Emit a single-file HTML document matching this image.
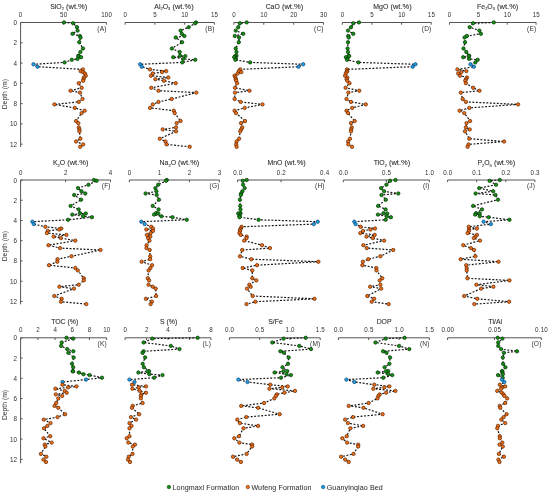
<!DOCTYPE html><html><head><meta charset="utf-8"><style>html,body{margin:0;padding:0;background:#fff;width:550px;height:494px;overflow:hidden}svg{display:block;filter:blur(0.3px)}text{font-family:"Liberation Sans",sans-serif;fill:#303030}</style></head><body>
<svg width="550" height="494" viewBox="0 0 550 494">
<line x1="20.6" y1="22.5" x2="20.6" y2="147.0" stroke="#555555" stroke-width="1"/>
<line x1="20.6" y1="22.50" x2="22.6" y2="22.50" stroke="#555555" stroke-width="1"/>
<text transform="translate(16.9,25.00) scale(1,1.1)" font-size="6.3" fill="#2a2a2a" text-anchor="end">0</text>
<line x1="20.6" y1="42.78" x2="22.6" y2="42.78" stroke="#555555" stroke-width="1"/>
<text transform="translate(16.9,45.28) scale(1,1.1)" font-size="6.3" fill="#2a2a2a" text-anchor="end">2</text>
<line x1="20.6" y1="63.06" x2="22.6" y2="63.06" stroke="#555555" stroke-width="1"/>
<text transform="translate(16.9,65.56) scale(1,1.1)" font-size="6.3" fill="#2a2a2a" text-anchor="end">4</text>
<line x1="20.6" y1="83.34" x2="22.6" y2="83.34" stroke="#555555" stroke-width="1"/>
<text transform="translate(16.9,85.84) scale(1,1.1)" font-size="6.3" fill="#2a2a2a" text-anchor="end">6</text>
<line x1="20.6" y1="103.62" x2="22.6" y2="103.62" stroke="#555555" stroke-width="1"/>
<text transform="translate(16.9,106.12) scale(1,1.1)" font-size="6.3" fill="#2a2a2a" text-anchor="end">8</text>
<line x1="20.6" y1="123.90" x2="22.6" y2="123.90" stroke="#555555" stroke-width="1"/>
<text transform="translate(16.9,126.40) scale(1,1.1)" font-size="6.3" fill="#2a2a2a" text-anchor="end">10</text>
<line x1="20.6" y1="144.18" x2="22.6" y2="144.18" stroke="#555555" stroke-width="1"/>
<text transform="translate(16.9,146.68) scale(1,1.1)" font-size="6.3" fill="#2a2a2a" text-anchor="end">12</text>
<text x="0" y="0" font-size="6.8" fill="#2a2a2a" text-anchor="middle" transform="translate(6.7,94.2) rotate(-90)">Depth (m)</text>
<line x1="20.6" y1="180.0" x2="20.6" y2="304.4" stroke="#555555" stroke-width="1"/>
<line x1="20.6" y1="180.00" x2="22.6" y2="180.00" stroke="#555555" stroke-width="1"/>
<text transform="translate(16.9,182.50) scale(1,1.1)" font-size="6.3" fill="#2a2a2a" text-anchor="end">0</text>
<line x1="20.6" y1="200.24" x2="22.6" y2="200.24" stroke="#555555" stroke-width="1"/>
<text transform="translate(16.9,202.74) scale(1,1.1)" font-size="6.3" fill="#2a2a2a" text-anchor="end">2</text>
<line x1="20.6" y1="220.48" x2="22.6" y2="220.48" stroke="#555555" stroke-width="1"/>
<text transform="translate(16.9,222.98) scale(1,1.1)" font-size="6.3" fill="#2a2a2a" text-anchor="end">4</text>
<line x1="20.6" y1="240.72" x2="22.6" y2="240.72" stroke="#555555" stroke-width="1"/>
<text transform="translate(16.9,243.22) scale(1,1.1)" font-size="6.3" fill="#2a2a2a" text-anchor="end">6</text>
<line x1="20.6" y1="260.96" x2="22.6" y2="260.96" stroke="#555555" stroke-width="1"/>
<text transform="translate(16.9,263.46) scale(1,1.1)" font-size="6.3" fill="#2a2a2a" text-anchor="end">8</text>
<line x1="20.6" y1="281.20" x2="22.6" y2="281.20" stroke="#555555" stroke-width="1"/>
<text transform="translate(16.9,283.70) scale(1,1.1)" font-size="6.3" fill="#2a2a2a" text-anchor="end">10</text>
<line x1="20.6" y1="301.44" x2="22.6" y2="301.44" stroke="#555555" stroke-width="1"/>
<text transform="translate(16.9,303.94) scale(1,1.1)" font-size="6.3" fill="#2a2a2a" text-anchor="end">12</text>
<text x="0" y="0" font-size="6.8" fill="#2a2a2a" text-anchor="middle" transform="translate(6.7,246.2) rotate(-90)">Depth (m)</text>
<line x1="20.6" y1="337.8" x2="20.6" y2="463.3" stroke="#555555" stroke-width="1"/>
<line x1="20.6" y1="337.80" x2="22.6" y2="337.80" stroke="#555555" stroke-width="1"/>
<text transform="translate(16.9,340.30) scale(1,1.1)" font-size="6.3" fill="#2a2a2a" text-anchor="end">0</text>
<line x1="20.6" y1="358.06" x2="22.6" y2="358.06" stroke="#555555" stroke-width="1"/>
<text transform="translate(16.9,360.56) scale(1,1.1)" font-size="6.3" fill="#2a2a2a" text-anchor="end">2</text>
<line x1="20.6" y1="378.32" x2="22.6" y2="378.32" stroke="#555555" stroke-width="1"/>
<text transform="translate(16.9,380.82) scale(1,1.1)" font-size="6.3" fill="#2a2a2a" text-anchor="end">4</text>
<line x1="20.6" y1="398.58" x2="22.6" y2="398.58" stroke="#555555" stroke-width="1"/>
<text transform="translate(16.9,401.08) scale(1,1.1)" font-size="6.3" fill="#2a2a2a" text-anchor="end">6</text>
<line x1="20.6" y1="418.84" x2="22.6" y2="418.84" stroke="#555555" stroke-width="1"/>
<text transform="translate(16.9,421.34) scale(1,1.1)" font-size="6.3" fill="#2a2a2a" text-anchor="end">8</text>
<line x1="20.6" y1="439.10" x2="22.6" y2="439.10" stroke="#555555" stroke-width="1"/>
<text transform="translate(16.9,441.60) scale(1,1.1)" font-size="6.3" fill="#2a2a2a" text-anchor="end">10</text>
<line x1="20.6" y1="459.36" x2="22.6" y2="459.36" stroke="#555555" stroke-width="1"/>
<text transform="translate(16.9,461.86) scale(1,1.1)" font-size="6.3" fill="#2a2a2a" text-anchor="end">12</text>
<text x="0" y="0" font-size="6.8" fill="#2a2a2a" text-anchor="middle" transform="translate(6.7,405.0) rotate(-90)">Depth (m)</text>
<line x1="20.5" y1="22.5" x2="106.4" y2="22.5" stroke="#555555" stroke-width="1"/>
<line x1="20.50" y1="22.5" x2="20.50" y2="24.7" stroke="#555555" stroke-width="1"/>
<text transform="translate(20.70,17.10) scale(1,1.15)" font-size="6.2" letter-spacing="0.2" fill="#505050" text-anchor="middle">0</text>
<line x1="63.45" y1="22.5" x2="63.45" y2="24.7" stroke="#555555" stroke-width="1"/>
<text transform="translate(63.65,17.10) scale(1,1.15)" font-size="6.2" letter-spacing="0.2" fill="#505050" text-anchor="middle">50</text>
<line x1="106.40" y1="22.5" x2="106.40" y2="24.7" stroke="#555555" stroke-width="1"/>
<text transform="translate(106.60,17.10) scale(1,1.15)" font-size="6.2" letter-spacing="0.2" fill="#505050" text-anchor="middle">100</text>
<text x="68.7" y="8.80" font-size="6.9" stroke="#303030" stroke-width="0.1" fill="#303030" text-anchor="middle">SiO<tspan font-size="4" dy="1.2">2</tspan><tspan dy="-1.2" font-size="7.5"> (wt.%)</tspan></text>
<text x="106.60000000000001" y="30.90" font-size="6.6" letter-spacing="0.15" fill="#303030" text-anchor="end">(A)</text>
<path d="M64.0,22.4 L73.2,23.3 L77.0,27.2 L77.6,30.6 L72.5,33.8 L79.9,36.0 L80.6,37.5 L79.2,42.2 L83.0,48.5 L80.4,52.0 L78.4,55.8 L78.6,56.1 L81.1,57.2 L77.5,58.9 L71.8,59.8 L64.6,62.4 L33.5,64.3 L37.5,66.7 L82.9,69.4 L80.6,71.1 L82.9,72.1 L84.9,73.5 L85.8,75.7 L83.9,77.5 L83.5,79.2 L83.1,80.7 L78.7,83.2 L81.7,87.8 L70.5,90.7 L80.0,92.6 L82.5,99.0 L78.7,101.9 L54.4,104.4 L74.8,107.9 L84.6,110.7 L81.6,113.1 L76.1,121.0 L78.3,123.1 L78.8,127.4 L79.4,129.4 L79.4,131.3 L80.4,138.7 L76.1,141.5 L83.2,144.4 L80.2,146.8" fill="none" stroke="#151515" stroke-width="1.2" stroke-dasharray="1.9,1.6"/>
<circle cx="64.0" cy="22.4" r="1.7" fill="#159015" stroke="#063306" stroke-width="0.7"/>
<circle cx="73.2" cy="23.3" r="1.7" fill="#159015" stroke="#063306" stroke-width="0.7"/>
<circle cx="77.0" cy="27.2" r="1.7" fill="#159015" stroke="#063306" stroke-width="0.7"/>
<circle cx="77.6" cy="30.6" r="1.7" fill="#159015" stroke="#063306" stroke-width="0.7"/>
<circle cx="72.5" cy="33.8" r="1.7" fill="#159015" stroke="#063306" stroke-width="0.7"/>
<circle cx="79.9" cy="36.0" r="1.7" fill="#159015" stroke="#063306" stroke-width="0.7"/>
<circle cx="80.6" cy="37.5" r="1.7" fill="#159015" stroke="#063306" stroke-width="0.7"/>
<circle cx="79.2" cy="42.2" r="1.7" fill="#159015" stroke="#063306" stroke-width="0.7"/>
<circle cx="83.0" cy="48.5" r="1.7" fill="#159015" stroke="#063306" stroke-width="0.7"/>
<circle cx="80.4" cy="52.0" r="1.7" fill="#159015" stroke="#063306" stroke-width="0.7"/>
<circle cx="78.4" cy="55.8" r="1.7" fill="#159015" stroke="#063306" stroke-width="0.7"/>
<circle cx="78.6" cy="56.1" r="1.7" fill="#159015" stroke="#063306" stroke-width="0.7"/>
<circle cx="81.1" cy="57.2" r="1.7" fill="#159015" stroke="#063306" stroke-width="0.7"/>
<circle cx="77.5" cy="58.9" r="1.7" fill="#159015" stroke="#063306" stroke-width="0.7"/>
<circle cx="71.8" cy="59.8" r="1.7" fill="#159015" stroke="#063306" stroke-width="0.7"/>
<circle cx="64.6" cy="62.4" r="1.7" fill="#159015" stroke="#063306" stroke-width="0.7"/>
<circle cx="33.5" cy="64.3" r="1.7" fill="#20a0e8" stroke="#084070" stroke-width="0.7"/>
<circle cx="37.5" cy="66.7" r="1.7" fill="#20a0e8" stroke="#084070" stroke-width="0.7"/>
<circle cx="82.9" cy="69.4" r="1.7" fill="#f07018" stroke="#5a2200" stroke-width="0.7"/>
<circle cx="80.6" cy="71.1" r="1.7" fill="#f07018" stroke="#5a2200" stroke-width="0.7"/>
<circle cx="82.9" cy="72.1" r="1.7" fill="#f07018" stroke="#5a2200" stroke-width="0.7"/>
<circle cx="84.9" cy="73.5" r="1.7" fill="#f07018" stroke="#5a2200" stroke-width="0.7"/>
<circle cx="85.8" cy="75.7" r="1.7" fill="#f07018" stroke="#5a2200" stroke-width="0.7"/>
<circle cx="83.9" cy="77.5" r="1.7" fill="#f07018" stroke="#5a2200" stroke-width="0.7"/>
<circle cx="83.5" cy="79.2" r="1.7" fill="#f07018" stroke="#5a2200" stroke-width="0.7"/>
<circle cx="83.1" cy="80.7" r="1.7" fill="#f07018" stroke="#5a2200" stroke-width="0.7"/>
<circle cx="78.7" cy="83.2" r="1.7" fill="#f07018" stroke="#5a2200" stroke-width="0.7"/>
<circle cx="81.7" cy="87.8" r="1.7" fill="#f07018" stroke="#5a2200" stroke-width="0.7"/>
<circle cx="70.5" cy="90.7" r="1.7" fill="#f07018" stroke="#5a2200" stroke-width="0.7"/>
<circle cx="80.0" cy="92.6" r="1.7" fill="#f07018" stroke="#5a2200" stroke-width="0.7"/>
<circle cx="82.5" cy="99.0" r="1.7" fill="#f07018" stroke="#5a2200" stroke-width="0.7"/>
<circle cx="78.7" cy="101.9" r="1.7" fill="#f07018" stroke="#5a2200" stroke-width="0.7"/>
<circle cx="54.4" cy="104.4" r="1.7" fill="#f07018" stroke="#5a2200" stroke-width="0.7"/>
<circle cx="74.8" cy="107.9" r="1.7" fill="#f07018" stroke="#5a2200" stroke-width="0.7"/>
<circle cx="84.6" cy="110.7" r="1.7" fill="#f07018" stroke="#5a2200" stroke-width="0.7"/>
<circle cx="81.6" cy="113.1" r="1.7" fill="#f07018" stroke="#5a2200" stroke-width="0.7"/>
<circle cx="76.1" cy="121.0" r="1.7" fill="#f07018" stroke="#5a2200" stroke-width="0.7"/>
<circle cx="78.3" cy="123.1" r="1.7" fill="#f07018" stroke="#5a2200" stroke-width="0.7"/>
<circle cx="78.8" cy="127.4" r="1.7" fill="#f07018" stroke="#5a2200" stroke-width="0.7"/>
<circle cx="79.4" cy="129.4" r="1.7" fill="#f07018" stroke="#5a2200" stroke-width="0.7"/>
<circle cx="79.4" cy="131.3" r="1.7" fill="#f07018" stroke="#5a2200" stroke-width="0.7"/>
<circle cx="80.4" cy="138.7" r="1.7" fill="#f07018" stroke="#5a2200" stroke-width="0.7"/>
<circle cx="76.1" cy="141.5" r="1.7" fill="#f07018" stroke="#5a2200" stroke-width="0.7"/>
<circle cx="83.2" cy="144.4" r="1.7" fill="#f07018" stroke="#5a2200" stroke-width="0.7"/>
<circle cx="80.2" cy="146.8" r="1.7" fill="#f07018" stroke="#5a2200" stroke-width="0.7"/>
<line x1="125.1" y1="22.5" x2="214.4" y2="22.5" stroke="#555555" stroke-width="1"/>
<line x1="125.10" y1="22.5" x2="125.10" y2="24.7" stroke="#555555" stroke-width="1"/>
<text transform="translate(125.30,17.10) scale(1,1.15)" font-size="6.2" letter-spacing="0.2" fill="#505050" text-anchor="middle">0</text>
<line x1="154.87" y1="22.5" x2="154.87" y2="24.7" stroke="#555555" stroke-width="1"/>
<text transform="translate(155.07,17.10) scale(1,1.15)" font-size="6.2" letter-spacing="0.2" fill="#505050" text-anchor="middle">5</text>
<line x1="184.63" y1="22.5" x2="184.63" y2="24.7" stroke="#555555" stroke-width="1"/>
<text transform="translate(184.83,17.10) scale(1,1.15)" font-size="6.2" letter-spacing="0.2" fill="#505050" text-anchor="middle">10</text>
<line x1="214.40" y1="22.5" x2="214.40" y2="24.7" stroke="#555555" stroke-width="1"/>
<text transform="translate(214.60,17.10) scale(1,1.15)" font-size="6.2" letter-spacing="0.2" fill="#505050" text-anchor="middle">15</text>
<text x="174.0" y="8.80" font-size="6.9" stroke="#303030" stroke-width="0.1" fill="#303030" text-anchor="middle">Al<tspan font-size="4" dy="1.2">2</tspan><tspan dy="-1.2">O</tspan><tspan font-size="4" dy="1.2">3</tspan><tspan dy="-1.2" font-size="7.5"> (wt.%)</tspan></text>
<text x="214.6" y="30.90" font-size="6.6" letter-spacing="0.15" fill="#303030" text-anchor="end">(B)</text>
<path d="M196.0,22.4 L195.0,23.3 L188.7,27.2 L180.6,30.6 L181.8,33.8 L184.4,36.0 L175.7,37.5 L182.1,42.2 L171.9,48.5 L179.7,52.0 L180.0,55.8 L185.3,56.1 L173.2,57.2 L183.3,58.9 L195.3,59.8 L182.3,62.4 L140.2,64.3 L141.8,66.7 L150.0,69.4 L166.2,71.1 L162.0,72.1 L152.8,73.5 L150.9,75.7 L168.3,77.5 L155.4,79.2 L164.0,80.7 L175.7,83.2 L151.3,87.8 L158.5,90.7 L196.3,92.6 L171.7,99.0 L158.5,101.9 L152.8,104.4 L150.0,107.9 L173.8,110.7 L174.7,113.1 L180.6,121.0 L176.7,123.1 L176.0,127.4 L162.7,129.4 L176.0,131.3 L159.8,138.7 L165.5,141.5 L166.6,144.4 L189.7,146.8" fill="none" stroke="#151515" stroke-width="1.2" stroke-dasharray="1.9,1.6"/>
<circle cx="196.0" cy="22.4" r="1.7" fill="#159015" stroke="#063306" stroke-width="0.7"/>
<circle cx="195.0" cy="23.3" r="1.7" fill="#159015" stroke="#063306" stroke-width="0.7"/>
<circle cx="188.7" cy="27.2" r="1.7" fill="#159015" stroke="#063306" stroke-width="0.7"/>
<circle cx="180.6" cy="30.6" r="1.7" fill="#159015" stroke="#063306" stroke-width="0.7"/>
<circle cx="181.8" cy="33.8" r="1.7" fill="#159015" stroke="#063306" stroke-width="0.7"/>
<circle cx="184.4" cy="36.0" r="1.7" fill="#159015" stroke="#063306" stroke-width="0.7"/>
<circle cx="175.7" cy="37.5" r="1.7" fill="#159015" stroke="#063306" stroke-width="0.7"/>
<circle cx="182.1" cy="42.2" r="1.7" fill="#159015" stroke="#063306" stroke-width="0.7"/>
<circle cx="171.9" cy="48.5" r="1.7" fill="#159015" stroke="#063306" stroke-width="0.7"/>
<circle cx="179.7" cy="52.0" r="1.7" fill="#159015" stroke="#063306" stroke-width="0.7"/>
<circle cx="180.0" cy="55.8" r="1.7" fill="#159015" stroke="#063306" stroke-width="0.7"/>
<circle cx="185.3" cy="56.1" r="1.7" fill="#159015" stroke="#063306" stroke-width="0.7"/>
<circle cx="173.2" cy="57.2" r="1.7" fill="#159015" stroke="#063306" stroke-width="0.7"/>
<circle cx="183.3" cy="58.9" r="1.7" fill="#159015" stroke="#063306" stroke-width="0.7"/>
<circle cx="195.3" cy="59.8" r="1.7" fill="#159015" stroke="#063306" stroke-width="0.7"/>
<circle cx="182.3" cy="62.4" r="1.7" fill="#159015" stroke="#063306" stroke-width="0.7"/>
<circle cx="140.2" cy="64.3" r="1.7" fill="#20a0e8" stroke="#084070" stroke-width="0.7"/>
<circle cx="141.8" cy="66.7" r="1.7" fill="#20a0e8" stroke="#084070" stroke-width="0.7"/>
<circle cx="150.0" cy="69.4" r="1.7" fill="#f07018" stroke="#5a2200" stroke-width="0.7"/>
<circle cx="166.2" cy="71.1" r="1.7" fill="#f07018" stroke="#5a2200" stroke-width="0.7"/>
<circle cx="162.0" cy="72.1" r="1.7" fill="#f07018" stroke="#5a2200" stroke-width="0.7"/>
<circle cx="152.8" cy="73.5" r="1.7" fill="#f07018" stroke="#5a2200" stroke-width="0.7"/>
<circle cx="150.9" cy="75.7" r="1.7" fill="#f07018" stroke="#5a2200" stroke-width="0.7"/>
<circle cx="168.3" cy="77.5" r="1.7" fill="#f07018" stroke="#5a2200" stroke-width="0.7"/>
<circle cx="155.4" cy="79.2" r="1.7" fill="#f07018" stroke="#5a2200" stroke-width="0.7"/>
<circle cx="164.0" cy="80.7" r="1.7" fill="#f07018" stroke="#5a2200" stroke-width="0.7"/>
<circle cx="175.7" cy="83.2" r="1.7" fill="#f07018" stroke="#5a2200" stroke-width="0.7"/>
<circle cx="151.3" cy="87.8" r="1.7" fill="#f07018" stroke="#5a2200" stroke-width="0.7"/>
<circle cx="158.5" cy="90.7" r="1.7" fill="#f07018" stroke="#5a2200" stroke-width="0.7"/>
<circle cx="196.3" cy="92.6" r="1.7" fill="#f07018" stroke="#5a2200" stroke-width="0.7"/>
<circle cx="171.7" cy="99.0" r="1.7" fill="#f07018" stroke="#5a2200" stroke-width="0.7"/>
<circle cx="158.5" cy="101.9" r="1.7" fill="#f07018" stroke="#5a2200" stroke-width="0.7"/>
<circle cx="152.8" cy="104.4" r="1.7" fill="#f07018" stroke="#5a2200" stroke-width="0.7"/>
<circle cx="150.0" cy="107.9" r="1.7" fill="#f07018" stroke="#5a2200" stroke-width="0.7"/>
<circle cx="173.8" cy="110.7" r="1.7" fill="#f07018" stroke="#5a2200" stroke-width="0.7"/>
<circle cx="174.7" cy="113.1" r="1.7" fill="#f07018" stroke="#5a2200" stroke-width="0.7"/>
<circle cx="180.6" cy="121.0" r="1.7" fill="#f07018" stroke="#5a2200" stroke-width="0.7"/>
<circle cx="176.7" cy="123.1" r="1.7" fill="#f07018" stroke="#5a2200" stroke-width="0.7"/>
<circle cx="176.0" cy="127.4" r="1.7" fill="#f07018" stroke="#5a2200" stroke-width="0.7"/>
<circle cx="162.7" cy="129.4" r="1.7" fill="#f07018" stroke="#5a2200" stroke-width="0.7"/>
<circle cx="176.0" cy="131.3" r="1.7" fill="#f07018" stroke="#5a2200" stroke-width="0.7"/>
<circle cx="159.8" cy="138.7" r="1.7" fill="#f07018" stroke="#5a2200" stroke-width="0.7"/>
<circle cx="165.5" cy="141.5" r="1.7" fill="#f07018" stroke="#5a2200" stroke-width="0.7"/>
<circle cx="166.6" cy="144.4" r="1.7" fill="#f07018" stroke="#5a2200" stroke-width="0.7"/>
<circle cx="189.7" cy="146.8" r="1.7" fill="#f07018" stroke="#5a2200" stroke-width="0.7"/>
<line x1="233.9" y1="22.5" x2="323.5" y2="22.5" stroke="#555555" stroke-width="1"/>
<line x1="233.90" y1="22.5" x2="233.90" y2="24.7" stroke="#555555" stroke-width="1"/>
<text transform="translate(234.10,17.10) scale(1,1.15)" font-size="6.2" letter-spacing="0.2" fill="#505050" text-anchor="middle">0</text>
<line x1="263.77" y1="22.5" x2="263.77" y2="24.7" stroke="#555555" stroke-width="1"/>
<text transform="translate(263.97,17.10) scale(1,1.15)" font-size="6.2" letter-spacing="0.2" fill="#505050" text-anchor="middle">10</text>
<line x1="293.63" y1="22.5" x2="293.63" y2="24.7" stroke="#555555" stroke-width="1"/>
<text transform="translate(293.83,17.10) scale(1,1.15)" font-size="6.2" letter-spacing="0.2" fill="#505050" text-anchor="middle">20</text>
<line x1="323.50" y1="22.5" x2="323.50" y2="24.7" stroke="#555555" stroke-width="1"/>
<text transform="translate(323.70,17.10) scale(1,1.15)" font-size="6.2" letter-spacing="0.2" fill="#505050" text-anchor="middle">30</text>
<text x="284.4" y="8.80" font-size="6.9" stroke="#303030" stroke-width="0.1" fill="#303030" text-anchor="middle">CaO<tspan font-size="7.5"> (wt.%)</tspan></text>
<text x="323.7" y="30.90" font-size="6.6" letter-spacing="0.15" fill="#303030" text-anchor="end">(C)</text>
<path d="M246.7,22.4 L239.9,23.3 L238.2,27.2 L235.7,30.6 L243.3,33.8 L234.8,36.0 L239.1,37.5 L238.8,42.2 L235.7,48.5 L236.5,52.0 L236.5,55.8 L235.0,56.1 L234.2,57.2 L236.0,58.9 L235.4,59.8 L250.1,62.4 L303.1,64.3 L298.5,66.7 L240.2,69.4 L238.8,71.1 L241.4,72.1 L237.6,73.5 L234.6,75.7 L235.4,77.5 L235.8,79.2 L236.2,80.7 L237.1,83.2 L235.0,87.8 L249.5,90.7 L235.0,92.6 L234.6,99.0 L240.7,101.9 L262.5,104.4 L244.7,107.9 L234.6,110.7 L236.0,113.1 L245.0,121.0 L241.0,123.1 L242.2,127.4 L241.2,129.4 L240.2,131.3 L239.1,138.7 L236.6,141.5 L236.1,144.4 L236.6,146.8" fill="none" stroke="#151515" stroke-width="1.2" stroke-dasharray="1.9,1.6"/>
<circle cx="246.7" cy="22.4" r="1.7" fill="#159015" stroke="#063306" stroke-width="0.7"/>
<circle cx="239.9" cy="23.3" r="1.7" fill="#159015" stroke="#063306" stroke-width="0.7"/>
<circle cx="238.2" cy="27.2" r="1.7" fill="#159015" stroke="#063306" stroke-width="0.7"/>
<circle cx="235.7" cy="30.6" r="1.7" fill="#159015" stroke="#063306" stroke-width="0.7"/>
<circle cx="243.3" cy="33.8" r="1.7" fill="#159015" stroke="#063306" stroke-width="0.7"/>
<circle cx="234.8" cy="36.0" r="1.7" fill="#159015" stroke="#063306" stroke-width="0.7"/>
<circle cx="239.1" cy="37.5" r="1.7" fill="#159015" stroke="#063306" stroke-width="0.7"/>
<circle cx="238.8" cy="42.2" r="1.7" fill="#159015" stroke="#063306" stroke-width="0.7"/>
<circle cx="235.7" cy="48.5" r="1.7" fill="#159015" stroke="#063306" stroke-width="0.7"/>
<circle cx="236.5" cy="52.0" r="1.7" fill="#159015" stroke="#063306" stroke-width="0.7"/>
<circle cx="236.5" cy="55.8" r="1.7" fill="#159015" stroke="#063306" stroke-width="0.7"/>
<circle cx="235.0" cy="56.1" r="1.7" fill="#159015" stroke="#063306" stroke-width="0.7"/>
<circle cx="234.2" cy="57.2" r="1.7" fill="#159015" stroke="#063306" stroke-width="0.7"/>
<circle cx="236.0" cy="58.9" r="1.7" fill="#159015" stroke="#063306" stroke-width="0.7"/>
<circle cx="235.4" cy="59.8" r="1.7" fill="#159015" stroke="#063306" stroke-width="0.7"/>
<circle cx="250.1" cy="62.4" r="1.7" fill="#159015" stroke="#063306" stroke-width="0.7"/>
<circle cx="303.1" cy="64.3" r="1.7" fill="#20a0e8" stroke="#084070" stroke-width="0.7"/>
<circle cx="298.5" cy="66.7" r="1.7" fill="#20a0e8" stroke="#084070" stroke-width="0.7"/>
<circle cx="240.2" cy="69.4" r="1.7" fill="#f07018" stroke="#5a2200" stroke-width="0.7"/>
<circle cx="238.8" cy="71.1" r="1.7" fill="#f07018" stroke="#5a2200" stroke-width="0.7"/>
<circle cx="241.4" cy="72.1" r="1.7" fill="#f07018" stroke="#5a2200" stroke-width="0.7"/>
<circle cx="237.6" cy="73.5" r="1.7" fill="#f07018" stroke="#5a2200" stroke-width="0.7"/>
<circle cx="234.6" cy="75.7" r="1.7" fill="#f07018" stroke="#5a2200" stroke-width="0.7"/>
<circle cx="235.4" cy="77.5" r="1.7" fill="#f07018" stroke="#5a2200" stroke-width="0.7"/>
<circle cx="235.8" cy="79.2" r="1.7" fill="#f07018" stroke="#5a2200" stroke-width="0.7"/>
<circle cx="236.2" cy="80.7" r="1.7" fill="#f07018" stroke="#5a2200" stroke-width="0.7"/>
<circle cx="237.1" cy="83.2" r="1.7" fill="#f07018" stroke="#5a2200" stroke-width="0.7"/>
<circle cx="235.0" cy="87.8" r="1.7" fill="#f07018" stroke="#5a2200" stroke-width="0.7"/>
<circle cx="249.5" cy="90.7" r="1.7" fill="#f07018" stroke="#5a2200" stroke-width="0.7"/>
<circle cx="235.0" cy="92.6" r="1.7" fill="#f07018" stroke="#5a2200" stroke-width="0.7"/>
<circle cx="234.6" cy="99.0" r="1.7" fill="#f07018" stroke="#5a2200" stroke-width="0.7"/>
<circle cx="240.7" cy="101.9" r="1.7" fill="#f07018" stroke="#5a2200" stroke-width="0.7"/>
<circle cx="262.5" cy="104.4" r="1.7" fill="#f07018" stroke="#5a2200" stroke-width="0.7"/>
<circle cx="244.7" cy="107.9" r="1.7" fill="#f07018" stroke="#5a2200" stroke-width="0.7"/>
<circle cx="234.6" cy="110.7" r="1.7" fill="#f07018" stroke="#5a2200" stroke-width="0.7"/>
<circle cx="236.0" cy="113.1" r="1.7" fill="#f07018" stroke="#5a2200" stroke-width="0.7"/>
<circle cx="245.0" cy="121.0" r="1.7" fill="#f07018" stroke="#5a2200" stroke-width="0.7"/>
<circle cx="241.0" cy="123.1" r="1.7" fill="#f07018" stroke="#5a2200" stroke-width="0.7"/>
<circle cx="242.2" cy="127.4" r="1.7" fill="#f07018" stroke="#5a2200" stroke-width="0.7"/>
<circle cx="241.2" cy="129.4" r="1.7" fill="#f07018" stroke="#5a2200" stroke-width="0.7"/>
<circle cx="240.2" cy="131.3" r="1.7" fill="#f07018" stroke="#5a2200" stroke-width="0.7"/>
<circle cx="239.1" cy="138.7" r="1.7" fill="#f07018" stroke="#5a2200" stroke-width="0.7"/>
<circle cx="236.6" cy="141.5" r="1.7" fill="#f07018" stroke="#5a2200" stroke-width="0.7"/>
<circle cx="236.1" cy="144.4" r="1.7" fill="#f07018" stroke="#5a2200" stroke-width="0.7"/>
<circle cx="236.6" cy="146.8" r="1.7" fill="#f07018" stroke="#5a2200" stroke-width="0.7"/>
<line x1="342.3" y1="22.5" x2="431.2" y2="22.5" stroke="#555555" stroke-width="1"/>
<line x1="342.30" y1="22.5" x2="342.30" y2="24.7" stroke="#555555" stroke-width="1"/>
<text transform="translate(342.50,17.10) scale(1,1.15)" font-size="6.2" letter-spacing="0.2" fill="#505050" text-anchor="middle">0</text>
<line x1="371.93" y1="22.5" x2="371.93" y2="24.7" stroke="#555555" stroke-width="1"/>
<text transform="translate(372.13,17.10) scale(1,1.15)" font-size="6.2" letter-spacing="0.2" fill="#505050" text-anchor="middle">5</text>
<line x1="401.57" y1="22.5" x2="401.57" y2="24.7" stroke="#555555" stroke-width="1"/>
<text transform="translate(401.77,17.10) scale(1,1.15)" font-size="6.2" letter-spacing="0.2" fill="#505050" text-anchor="middle">10</text>
<line x1="431.20" y1="22.5" x2="431.20" y2="24.7" stroke="#555555" stroke-width="1"/>
<text transform="translate(431.40,17.10) scale(1,1.15)" font-size="6.2" letter-spacing="0.2" fill="#505050" text-anchor="middle">15</text>
<text x="392.5" y="8.80" font-size="6.9" stroke="#303030" stroke-width="0.1" fill="#303030" text-anchor="middle">MgO<tspan font-size="7.5"> (wt.%)</tspan></text>
<text x="431.4" y="30.90" font-size="6.6" letter-spacing="0.15" fill="#303030" text-anchor="end">(D)</text>
<path d="M359.0,22.4 L353.3,23.3 L351.0,27.2 L348.0,30.6 L353.3,33.8 L348.2,36.0 L348.8,37.5 L348.0,42.2 L347.6,48.5 L348.0,52.0 L348.8,55.8 L349.1,56.1 L345.9,57.2 L347.5,58.9 L347.1,59.8 L358.4,62.4 L415.4,64.3 L412.7,66.7 L347.0,69.4 L347.3,71.1 L346.5,72.1 L345.8,73.5 L345.1,75.7 L347.3,77.5 L346.6,79.2 L347.3,80.7 L349.5,83.2 L345.6,87.8 L359.3,90.7 L348.4,92.6 L346.5,99.0 L351.0,101.9 L365.8,104.4 L352.2,107.9 L346.5,110.7 L348.0,113.1 L354.7,121.0 L351.0,123.1 L351.7,127.4 L351.2,129.4 L351.0,131.3 L350.0,138.7 L348.1,141.5 L348.3,144.4 L352.0,146.8" fill="none" stroke="#151515" stroke-width="1.2" stroke-dasharray="1.9,1.6"/>
<circle cx="359.0" cy="22.4" r="1.7" fill="#159015" stroke="#063306" stroke-width="0.7"/>
<circle cx="353.3" cy="23.3" r="1.7" fill="#159015" stroke="#063306" stroke-width="0.7"/>
<circle cx="351.0" cy="27.2" r="1.7" fill="#159015" stroke="#063306" stroke-width="0.7"/>
<circle cx="348.0" cy="30.6" r="1.7" fill="#159015" stroke="#063306" stroke-width="0.7"/>
<circle cx="353.3" cy="33.8" r="1.7" fill="#159015" stroke="#063306" stroke-width="0.7"/>
<circle cx="348.2" cy="36.0" r="1.7" fill="#159015" stroke="#063306" stroke-width="0.7"/>
<circle cx="348.8" cy="37.5" r="1.7" fill="#159015" stroke="#063306" stroke-width="0.7"/>
<circle cx="348.0" cy="42.2" r="1.7" fill="#159015" stroke="#063306" stroke-width="0.7"/>
<circle cx="347.6" cy="48.5" r="1.7" fill="#159015" stroke="#063306" stroke-width="0.7"/>
<circle cx="348.0" cy="52.0" r="1.7" fill="#159015" stroke="#063306" stroke-width="0.7"/>
<circle cx="348.8" cy="55.8" r="1.7" fill="#159015" stroke="#063306" stroke-width="0.7"/>
<circle cx="349.1" cy="56.1" r="1.7" fill="#159015" stroke="#063306" stroke-width="0.7"/>
<circle cx="345.9" cy="57.2" r="1.7" fill="#159015" stroke="#063306" stroke-width="0.7"/>
<circle cx="347.5" cy="58.9" r="1.7" fill="#159015" stroke="#063306" stroke-width="0.7"/>
<circle cx="347.1" cy="59.8" r="1.7" fill="#159015" stroke="#063306" stroke-width="0.7"/>
<circle cx="358.4" cy="62.4" r="1.7" fill="#159015" stroke="#063306" stroke-width="0.7"/>
<circle cx="415.4" cy="64.3" r="1.7" fill="#20a0e8" stroke="#084070" stroke-width="0.7"/>
<circle cx="412.7" cy="66.7" r="1.7" fill="#20a0e8" stroke="#084070" stroke-width="0.7"/>
<circle cx="347.0" cy="69.4" r="1.7" fill="#f07018" stroke="#5a2200" stroke-width="0.7"/>
<circle cx="347.3" cy="71.1" r="1.7" fill="#f07018" stroke="#5a2200" stroke-width="0.7"/>
<circle cx="346.5" cy="72.1" r="1.7" fill="#f07018" stroke="#5a2200" stroke-width="0.7"/>
<circle cx="345.8" cy="73.5" r="1.7" fill="#f07018" stroke="#5a2200" stroke-width="0.7"/>
<circle cx="345.1" cy="75.7" r="1.7" fill="#f07018" stroke="#5a2200" stroke-width="0.7"/>
<circle cx="347.3" cy="77.5" r="1.7" fill="#f07018" stroke="#5a2200" stroke-width="0.7"/>
<circle cx="346.6" cy="79.2" r="1.7" fill="#f07018" stroke="#5a2200" stroke-width="0.7"/>
<circle cx="347.3" cy="80.7" r="1.7" fill="#f07018" stroke="#5a2200" stroke-width="0.7"/>
<circle cx="349.5" cy="83.2" r="1.7" fill="#f07018" stroke="#5a2200" stroke-width="0.7"/>
<circle cx="345.6" cy="87.8" r="1.7" fill="#f07018" stroke="#5a2200" stroke-width="0.7"/>
<circle cx="359.3" cy="90.7" r="1.7" fill="#f07018" stroke="#5a2200" stroke-width="0.7"/>
<circle cx="348.4" cy="92.6" r="1.7" fill="#f07018" stroke="#5a2200" stroke-width="0.7"/>
<circle cx="346.5" cy="99.0" r="1.7" fill="#f07018" stroke="#5a2200" stroke-width="0.7"/>
<circle cx="351.0" cy="101.9" r="1.7" fill="#f07018" stroke="#5a2200" stroke-width="0.7"/>
<circle cx="365.8" cy="104.4" r="1.7" fill="#f07018" stroke="#5a2200" stroke-width="0.7"/>
<circle cx="352.2" cy="107.9" r="1.7" fill="#f07018" stroke="#5a2200" stroke-width="0.7"/>
<circle cx="346.5" cy="110.7" r="1.7" fill="#f07018" stroke="#5a2200" stroke-width="0.7"/>
<circle cx="348.0" cy="113.1" r="1.7" fill="#f07018" stroke="#5a2200" stroke-width="0.7"/>
<circle cx="354.7" cy="121.0" r="1.7" fill="#f07018" stroke="#5a2200" stroke-width="0.7"/>
<circle cx="351.0" cy="123.1" r="1.7" fill="#f07018" stroke="#5a2200" stroke-width="0.7"/>
<circle cx="351.7" cy="127.4" r="1.7" fill="#f07018" stroke="#5a2200" stroke-width="0.7"/>
<circle cx="351.2" cy="129.4" r="1.7" fill="#f07018" stroke="#5a2200" stroke-width="0.7"/>
<circle cx="351.0" cy="131.3" r="1.7" fill="#f07018" stroke="#5a2200" stroke-width="0.7"/>
<circle cx="350.0" cy="138.7" r="1.7" fill="#f07018" stroke="#5a2200" stroke-width="0.7"/>
<circle cx="348.1" cy="141.5" r="1.7" fill="#f07018" stroke="#5a2200" stroke-width="0.7"/>
<circle cx="348.3" cy="144.4" r="1.7" fill="#f07018" stroke="#5a2200" stroke-width="0.7"/>
<circle cx="352.0" cy="146.8" r="1.7" fill="#f07018" stroke="#5a2200" stroke-width="0.7"/>
<line x1="449.5" y1="22.5" x2="536.1" y2="22.5" stroke="#555555" stroke-width="1"/>
<line x1="449.50" y1="22.5" x2="449.50" y2="24.7" stroke="#555555" stroke-width="1"/>
<text transform="translate(449.70,17.10) scale(1,1.15)" font-size="6.2" letter-spacing="0.2" fill="#505050" text-anchor="middle">0</text>
<line x1="478.37" y1="22.5" x2="478.37" y2="24.7" stroke="#555555" stroke-width="1"/>
<text transform="translate(478.57,17.10) scale(1,1.15)" font-size="6.2" letter-spacing="0.2" fill="#505050" text-anchor="middle">5</text>
<line x1="507.23" y1="22.5" x2="507.23" y2="24.7" stroke="#555555" stroke-width="1"/>
<text transform="translate(507.43,17.10) scale(1,1.15)" font-size="6.2" letter-spacing="0.2" fill="#505050" text-anchor="middle">10</text>
<line x1="536.10" y1="22.5" x2="536.10" y2="24.7" stroke="#555555" stroke-width="1"/>
<text transform="translate(536.30,17.10) scale(1,1.15)" font-size="6.2" letter-spacing="0.2" fill="#505050" text-anchor="middle">15</text>
<text x="497.7" y="8.80" font-size="6.9" stroke="#303030" stroke-width="0.1" fill="#303030" text-anchor="middle">Fe<tspan font-size="4" dy="1.2">2</tspan><tspan dy="-1.2">O</tspan><tspan font-size="4" dy="1.2">3</tspan><tspan dy="-1.2" font-size="7.5"> (wt.%)</tspan></text>
<text x="536.3000000000001" y="30.90" font-size="6.6" letter-spacing="0.15" fill="#303030" text-anchor="end">(E)</text>
<path d="M493.8,22.4 L473.1,23.3 L469.7,27.2 L479.4,30.6 L480.9,33.8 L466.9,36.0 L464.6,37.5 L465.0,42.2 L463.5,48.5 L466.3,52.0 L469.2,55.8 L468.6,56.1 L463.2,57.2 L469.2,58.9 L477.7,59.8 L475.4,62.4 L470.5,64.3 L473.9,66.7 L457.4,69.4 L466.4,71.1 L461.3,72.1 L458.2,73.5 L460.0,75.7 L467.0,77.5 L466.0,79.2 L465.3,80.7 L465.9,83.2 L473.2,87.8 L479.5,90.7 L460.8,92.6 L462.7,99.0 L465.9,101.9 L518.1,104.4 L469.3,107.9 L459.6,110.7 L464.3,113.1 L470.1,121.0 L466.5,123.1 L465.9,127.4 L469.7,129.4 L465.0,131.3 L469.3,138.7 L504.1,141.5 L468.5,144.4 L467.6,146.8" fill="none" stroke="#151515" stroke-width="1.2" stroke-dasharray="1.9,1.6"/>
<circle cx="493.8" cy="22.4" r="1.7" fill="#159015" stroke="#063306" stroke-width="0.7"/>
<circle cx="473.1" cy="23.3" r="1.7" fill="#159015" stroke="#063306" stroke-width="0.7"/>
<circle cx="469.7" cy="27.2" r="1.7" fill="#159015" stroke="#063306" stroke-width="0.7"/>
<circle cx="479.4" cy="30.6" r="1.7" fill="#159015" stroke="#063306" stroke-width="0.7"/>
<circle cx="480.9" cy="33.8" r="1.7" fill="#159015" stroke="#063306" stroke-width="0.7"/>
<circle cx="466.9" cy="36.0" r="1.7" fill="#159015" stroke="#063306" stroke-width="0.7"/>
<circle cx="464.6" cy="37.5" r="1.7" fill="#159015" stroke="#063306" stroke-width="0.7"/>
<circle cx="465.0" cy="42.2" r="1.7" fill="#159015" stroke="#063306" stroke-width="0.7"/>
<circle cx="463.5" cy="48.5" r="1.7" fill="#159015" stroke="#063306" stroke-width="0.7"/>
<circle cx="466.3" cy="52.0" r="1.7" fill="#159015" stroke="#063306" stroke-width="0.7"/>
<circle cx="469.2" cy="55.8" r="1.7" fill="#159015" stroke="#063306" stroke-width="0.7"/>
<circle cx="468.6" cy="56.1" r="1.7" fill="#159015" stroke="#063306" stroke-width="0.7"/>
<circle cx="463.2" cy="57.2" r="1.7" fill="#159015" stroke="#063306" stroke-width="0.7"/>
<circle cx="469.2" cy="58.9" r="1.7" fill="#159015" stroke="#063306" stroke-width="0.7"/>
<circle cx="477.7" cy="59.8" r="1.7" fill="#159015" stroke="#063306" stroke-width="0.7"/>
<circle cx="475.4" cy="62.4" r="1.7" fill="#159015" stroke="#063306" stroke-width="0.7"/>
<circle cx="470.5" cy="64.3" r="1.7" fill="#20a0e8" stroke="#084070" stroke-width="0.7"/>
<circle cx="473.9" cy="66.7" r="1.7" fill="#20a0e8" stroke="#084070" stroke-width="0.7"/>
<circle cx="457.4" cy="69.4" r="1.7" fill="#f07018" stroke="#5a2200" stroke-width="0.7"/>
<circle cx="466.4" cy="71.1" r="1.7" fill="#f07018" stroke="#5a2200" stroke-width="0.7"/>
<circle cx="461.3" cy="72.1" r="1.7" fill="#f07018" stroke="#5a2200" stroke-width="0.7"/>
<circle cx="458.2" cy="73.5" r="1.7" fill="#f07018" stroke="#5a2200" stroke-width="0.7"/>
<circle cx="460.0" cy="75.7" r="1.7" fill="#f07018" stroke="#5a2200" stroke-width="0.7"/>
<circle cx="467.0" cy="77.5" r="1.7" fill="#f07018" stroke="#5a2200" stroke-width="0.7"/>
<circle cx="466.0" cy="79.2" r="1.7" fill="#f07018" stroke="#5a2200" stroke-width="0.7"/>
<circle cx="465.3" cy="80.7" r="1.7" fill="#f07018" stroke="#5a2200" stroke-width="0.7"/>
<circle cx="465.9" cy="83.2" r="1.7" fill="#f07018" stroke="#5a2200" stroke-width="0.7"/>
<circle cx="473.2" cy="87.8" r="1.7" fill="#f07018" stroke="#5a2200" stroke-width="0.7"/>
<circle cx="479.5" cy="90.7" r="1.7" fill="#f07018" stroke="#5a2200" stroke-width="0.7"/>
<circle cx="460.8" cy="92.6" r="1.7" fill="#f07018" stroke="#5a2200" stroke-width="0.7"/>
<circle cx="462.7" cy="99.0" r="1.7" fill="#f07018" stroke="#5a2200" stroke-width="0.7"/>
<circle cx="465.9" cy="101.9" r="1.7" fill="#f07018" stroke="#5a2200" stroke-width="0.7"/>
<circle cx="518.1" cy="104.4" r="1.7" fill="#f07018" stroke="#5a2200" stroke-width="0.7"/>
<circle cx="469.3" cy="107.9" r="1.7" fill="#f07018" stroke="#5a2200" stroke-width="0.7"/>
<circle cx="459.6" cy="110.7" r="1.7" fill="#f07018" stroke="#5a2200" stroke-width="0.7"/>
<circle cx="464.3" cy="113.1" r="1.7" fill="#f07018" stroke="#5a2200" stroke-width="0.7"/>
<circle cx="470.1" cy="121.0" r="1.7" fill="#f07018" stroke="#5a2200" stroke-width="0.7"/>
<circle cx="466.5" cy="123.1" r="1.7" fill="#f07018" stroke="#5a2200" stroke-width="0.7"/>
<circle cx="465.9" cy="127.4" r="1.7" fill="#f07018" stroke="#5a2200" stroke-width="0.7"/>
<circle cx="469.7" cy="129.4" r="1.7" fill="#f07018" stroke="#5a2200" stroke-width="0.7"/>
<circle cx="465.0" cy="131.3" r="1.7" fill="#f07018" stroke="#5a2200" stroke-width="0.7"/>
<circle cx="469.3" cy="138.7" r="1.7" fill="#f07018" stroke="#5a2200" stroke-width="0.7"/>
<circle cx="504.1" cy="141.5" r="1.7" fill="#f07018" stroke="#5a2200" stroke-width="0.7"/>
<circle cx="468.5" cy="144.4" r="1.7" fill="#f07018" stroke="#5a2200" stroke-width="0.7"/>
<circle cx="467.6" cy="146.8" r="1.7" fill="#f07018" stroke="#5a2200" stroke-width="0.7"/>
<line x1="20.7" y1="180.0" x2="110.5" y2="180.0" stroke="#555555" stroke-width="1"/>
<line x1="20.70" y1="180.0" x2="20.70" y2="182.2" stroke="#555555" stroke-width="1"/>
<text transform="translate(20.90,174.50) scale(1,1.15)" font-size="6.2" letter-spacing="0.2" fill="#505050" text-anchor="middle">0</text>
<line x1="65.60" y1="180.0" x2="65.60" y2="182.2" stroke="#555555" stroke-width="1"/>
<text transform="translate(65.80,174.50) scale(1,1.15)" font-size="6.2" letter-spacing="0.2" fill="#505050" text-anchor="middle">2</text>
<line x1="110.50" y1="180.0" x2="110.50" y2="182.2" stroke="#555555" stroke-width="1"/>
<text transform="translate(110.70,174.50) scale(1,1.15)" font-size="6.2" letter-spacing="0.2" fill="#505050" text-anchor="middle">4</text>
<text x="70.7" y="165.30" font-size="6.9" stroke="#303030" stroke-width="0.1" fill="#303030" text-anchor="middle">K<tspan font-size="4" dy="1.2">2</tspan><tspan dy="-1.2">O</tspan><tspan font-size="7.5"> (wt.%)</tspan></text>
<text x="110.7" y="188.40" font-size="6.6" letter-spacing="0.15" fill="#303030" text-anchor="end">(F)</text>
<path d="M93.9,180.0 L96.6,180.8 L88.5,184.7 L78.0,188.1 L81.5,191.3 L85.3,193.5 L74.2,195.0 L81.1,199.7 L70.6,205.9 L78.7,209.4 L80.0,213.2 L85.8,213.5 L72.3,214.6 L83.1,216.3 L91.9,217.2 L68.1,219.8 L32.4,221.7 L33.8,224.1 L45.4,226.8 L61.3,228.5 L59.2,229.5 L47.7,230.9 L46.9,233.1 L66.4,234.9 L53.6,236.6 L60.9,238.1 L75.3,240.6 L48.5,245.2 L60.0,248.1 L100.5,250.0 L71.5,256.3 L57.5,259.2 L57.3,261.7 L49.0,265.2 L75.3,268.0 L77.8,270.4 L83.8,278.3 L83.8,280.4 L78.7,284.7 L59.4,286.7 L74.0,288.6 L54.3,296.0 L61.7,298.8 L60.9,301.7 L86.3,304.1" fill="none" stroke="#151515" stroke-width="1.2" stroke-dasharray="1.9,1.6"/>
<circle cx="93.9" cy="180.0" r="1.7" fill="#159015" stroke="#063306" stroke-width="0.7"/>
<circle cx="96.6" cy="180.8" r="1.7" fill="#159015" stroke="#063306" stroke-width="0.7"/>
<circle cx="88.5" cy="184.7" r="1.7" fill="#159015" stroke="#063306" stroke-width="0.7"/>
<circle cx="78.0" cy="188.1" r="1.7" fill="#159015" stroke="#063306" stroke-width="0.7"/>
<circle cx="81.5" cy="191.3" r="1.7" fill="#159015" stroke="#063306" stroke-width="0.7"/>
<circle cx="85.3" cy="193.5" r="1.7" fill="#159015" stroke="#063306" stroke-width="0.7"/>
<circle cx="74.2" cy="195.0" r="1.7" fill="#159015" stroke="#063306" stroke-width="0.7"/>
<circle cx="81.1" cy="199.7" r="1.7" fill="#159015" stroke="#063306" stroke-width="0.7"/>
<circle cx="70.6" cy="205.9" r="1.7" fill="#159015" stroke="#063306" stroke-width="0.7"/>
<circle cx="78.7" cy="209.4" r="1.7" fill="#159015" stroke="#063306" stroke-width="0.7"/>
<circle cx="80.0" cy="213.2" r="1.7" fill="#159015" stroke="#063306" stroke-width="0.7"/>
<circle cx="85.8" cy="213.5" r="1.7" fill="#159015" stroke="#063306" stroke-width="0.7"/>
<circle cx="72.3" cy="214.6" r="1.7" fill="#159015" stroke="#063306" stroke-width="0.7"/>
<circle cx="83.1" cy="216.3" r="1.7" fill="#159015" stroke="#063306" stroke-width="0.7"/>
<circle cx="91.9" cy="217.2" r="1.7" fill="#159015" stroke="#063306" stroke-width="0.7"/>
<circle cx="68.1" cy="219.8" r="1.7" fill="#159015" stroke="#063306" stroke-width="0.7"/>
<circle cx="32.4" cy="221.7" r="1.7" fill="#20a0e8" stroke="#084070" stroke-width="0.7"/>
<circle cx="33.8" cy="224.1" r="1.7" fill="#20a0e8" stroke="#084070" stroke-width="0.7"/>
<circle cx="45.4" cy="226.8" r="1.7" fill="#f07018" stroke="#5a2200" stroke-width="0.7"/>
<circle cx="61.3" cy="228.5" r="1.7" fill="#f07018" stroke="#5a2200" stroke-width="0.7"/>
<circle cx="59.2" cy="229.5" r="1.7" fill="#f07018" stroke="#5a2200" stroke-width="0.7"/>
<circle cx="47.7" cy="230.9" r="1.7" fill="#f07018" stroke="#5a2200" stroke-width="0.7"/>
<circle cx="46.9" cy="233.1" r="1.7" fill="#f07018" stroke="#5a2200" stroke-width="0.7"/>
<circle cx="66.4" cy="234.9" r="1.7" fill="#f07018" stroke="#5a2200" stroke-width="0.7"/>
<circle cx="53.6" cy="236.6" r="1.7" fill="#f07018" stroke="#5a2200" stroke-width="0.7"/>
<circle cx="60.9" cy="238.1" r="1.7" fill="#f07018" stroke="#5a2200" stroke-width="0.7"/>
<circle cx="75.3" cy="240.6" r="1.7" fill="#f07018" stroke="#5a2200" stroke-width="0.7"/>
<circle cx="48.5" cy="245.2" r="1.7" fill="#f07018" stroke="#5a2200" stroke-width="0.7"/>
<circle cx="60.0" cy="248.1" r="1.7" fill="#f07018" stroke="#5a2200" stroke-width="0.7"/>
<circle cx="100.5" cy="250.0" r="1.7" fill="#f07018" stroke="#5a2200" stroke-width="0.7"/>
<circle cx="71.5" cy="256.3" r="1.7" fill="#f07018" stroke="#5a2200" stroke-width="0.7"/>
<circle cx="57.5" cy="259.2" r="1.7" fill="#f07018" stroke="#5a2200" stroke-width="0.7"/>
<circle cx="57.3" cy="261.7" r="1.7" fill="#f07018" stroke="#5a2200" stroke-width="0.7"/>
<circle cx="49.0" cy="265.2" r="1.7" fill="#f07018" stroke="#5a2200" stroke-width="0.7"/>
<circle cx="75.3" cy="268.0" r="1.7" fill="#f07018" stroke="#5a2200" stroke-width="0.7"/>
<circle cx="77.8" cy="270.4" r="1.7" fill="#f07018" stroke="#5a2200" stroke-width="0.7"/>
<circle cx="83.8" cy="278.3" r="1.7" fill="#f07018" stroke="#5a2200" stroke-width="0.7"/>
<circle cx="83.8" cy="280.4" r="1.7" fill="#f07018" stroke="#5a2200" stroke-width="0.7"/>
<circle cx="78.7" cy="284.7" r="1.7" fill="#f07018" stroke="#5a2200" stroke-width="0.7"/>
<circle cx="59.4" cy="286.7" r="1.7" fill="#f07018" stroke="#5a2200" stroke-width="0.7"/>
<circle cx="74.0" cy="288.6" r="1.7" fill="#f07018" stroke="#5a2200" stroke-width="0.7"/>
<circle cx="54.3" cy="296.0" r="1.7" fill="#f07018" stroke="#5a2200" stroke-width="0.7"/>
<circle cx="61.7" cy="298.8" r="1.7" fill="#f07018" stroke="#5a2200" stroke-width="0.7"/>
<circle cx="60.9" cy="301.7" r="1.7" fill="#f07018" stroke="#5a2200" stroke-width="0.7"/>
<circle cx="86.3" cy="304.1" r="1.7" fill="#f07018" stroke="#5a2200" stroke-width="0.7"/>
<line x1="129.3" y1="180.0" x2="219.4" y2="180.0" stroke="#555555" stroke-width="1"/>
<line x1="129.30" y1="180.0" x2="129.30" y2="182.2" stroke="#555555" stroke-width="1"/>
<text transform="translate(129.50,174.50) scale(1,1.15)" font-size="6.2" letter-spacing="0.2" fill="#505050" text-anchor="middle">0</text>
<line x1="159.33" y1="180.0" x2="159.33" y2="182.2" stroke="#555555" stroke-width="1"/>
<text transform="translate(159.53,174.50) scale(1,1.15)" font-size="6.2" letter-spacing="0.2" fill="#505050" text-anchor="middle">1</text>
<line x1="189.37" y1="180.0" x2="189.37" y2="182.2" stroke="#555555" stroke-width="1"/>
<text transform="translate(189.57,174.50) scale(1,1.15)" font-size="6.2" letter-spacing="0.2" fill="#505050" text-anchor="middle">2</text>
<line x1="219.40" y1="180.0" x2="219.40" y2="182.2" stroke="#555555" stroke-width="1"/>
<text transform="translate(219.60,174.50) scale(1,1.15)" font-size="6.2" letter-spacing="0.2" fill="#505050" text-anchor="middle">3</text>
<text x="179.5" y="165.30" font-size="6.9" stroke="#303030" stroke-width="0.1" fill="#303030" text-anchor="middle">Na<tspan font-size="4" dy="1.2">2</tspan><tspan dy="-1.2">O</tspan><tspan font-size="7.5"> (wt.%)</tspan></text>
<text x="219.6" y="188.40" font-size="6.6" letter-spacing="0.15" fill="#303030" text-anchor="end">(G)</text>
<path d="M166.8,180.0 L166.0,180.8 L158.2,184.7 L155.4,188.1 L156.4,191.3 L145.6,193.5 L156.7,195.0 L159.0,199.7 L152.7,205.9 L158.6,209.4 L155.9,213.2 L158.3,213.5 L154.0,214.6 L161.5,216.3 L172.5,217.2 L186.7,219.8 L141.3,221.7 L144.7,224.1 L151.2,226.8 L153.0,228.5 L146.3,229.5 L153.0,230.9 L150.6,233.1 L146.9,234.9 L150.3,236.6 L148.1,238.1 L149.5,240.6 L146.6,245.2 L146.5,248.1 L149.7,250.0 L150.2,256.3 L150.1,259.2 L141.7,261.7 L152.1,265.2 L150.4,268.0 L148.6,270.4 L147.8,278.3 L149.1,280.4 L148.5,284.7 L152.7,286.7 L155.7,288.6 L156.1,296.0 L145.9,298.8 L151.9,301.7 L150.6,304.1" fill="none" stroke="#151515" stroke-width="1.2" stroke-dasharray="1.9,1.6"/>
<circle cx="166.8" cy="180.0" r="1.7" fill="#159015" stroke="#063306" stroke-width="0.7"/>
<circle cx="166.0" cy="180.8" r="1.7" fill="#159015" stroke="#063306" stroke-width="0.7"/>
<circle cx="158.2" cy="184.7" r="1.7" fill="#159015" stroke="#063306" stroke-width="0.7"/>
<circle cx="155.4" cy="188.1" r="1.7" fill="#159015" stroke="#063306" stroke-width="0.7"/>
<circle cx="156.4" cy="191.3" r="1.7" fill="#159015" stroke="#063306" stroke-width="0.7"/>
<circle cx="145.6" cy="193.5" r="1.7" fill="#159015" stroke="#063306" stroke-width="0.7"/>
<circle cx="156.7" cy="195.0" r="1.7" fill="#159015" stroke="#063306" stroke-width="0.7"/>
<circle cx="159.0" cy="199.7" r="1.7" fill="#159015" stroke="#063306" stroke-width="0.7"/>
<circle cx="152.7" cy="205.9" r="1.7" fill="#159015" stroke="#063306" stroke-width="0.7"/>
<circle cx="158.6" cy="209.4" r="1.7" fill="#159015" stroke="#063306" stroke-width="0.7"/>
<circle cx="155.9" cy="213.2" r="1.7" fill="#159015" stroke="#063306" stroke-width="0.7"/>
<circle cx="158.3" cy="213.5" r="1.7" fill="#159015" stroke="#063306" stroke-width="0.7"/>
<circle cx="154.0" cy="214.6" r="1.7" fill="#159015" stroke="#063306" stroke-width="0.7"/>
<circle cx="161.5" cy="216.3" r="1.7" fill="#159015" stroke="#063306" stroke-width="0.7"/>
<circle cx="172.5" cy="217.2" r="1.7" fill="#159015" stroke="#063306" stroke-width="0.7"/>
<circle cx="186.7" cy="219.8" r="1.7" fill="#159015" stroke="#063306" stroke-width="0.7"/>
<circle cx="141.3" cy="221.7" r="1.7" fill="#20a0e8" stroke="#084070" stroke-width="0.7"/>
<circle cx="144.7" cy="224.1" r="1.7" fill="#20a0e8" stroke="#084070" stroke-width="0.7"/>
<circle cx="151.2" cy="226.8" r="1.7" fill="#f07018" stroke="#5a2200" stroke-width="0.7"/>
<circle cx="153.0" cy="228.5" r="1.7" fill="#f07018" stroke="#5a2200" stroke-width="0.7"/>
<circle cx="146.3" cy="229.5" r="1.7" fill="#f07018" stroke="#5a2200" stroke-width="0.7"/>
<circle cx="153.0" cy="230.9" r="1.7" fill="#f07018" stroke="#5a2200" stroke-width="0.7"/>
<circle cx="150.6" cy="233.1" r="1.7" fill="#f07018" stroke="#5a2200" stroke-width="0.7"/>
<circle cx="146.9" cy="234.9" r="1.7" fill="#f07018" stroke="#5a2200" stroke-width="0.7"/>
<circle cx="150.3" cy="236.6" r="1.7" fill="#f07018" stroke="#5a2200" stroke-width="0.7"/>
<circle cx="148.1" cy="238.1" r="1.7" fill="#f07018" stroke="#5a2200" stroke-width="0.7"/>
<circle cx="149.5" cy="240.6" r="1.7" fill="#f07018" stroke="#5a2200" stroke-width="0.7"/>
<circle cx="146.6" cy="245.2" r="1.7" fill="#f07018" stroke="#5a2200" stroke-width="0.7"/>
<circle cx="146.5" cy="248.1" r="1.7" fill="#f07018" stroke="#5a2200" stroke-width="0.7"/>
<circle cx="149.7" cy="250.0" r="1.7" fill="#f07018" stroke="#5a2200" stroke-width="0.7"/>
<circle cx="150.2" cy="256.3" r="1.7" fill="#f07018" stroke="#5a2200" stroke-width="0.7"/>
<circle cx="150.1" cy="259.2" r="1.7" fill="#f07018" stroke="#5a2200" stroke-width="0.7"/>
<circle cx="141.7" cy="261.7" r="1.7" fill="#f07018" stroke="#5a2200" stroke-width="0.7"/>
<circle cx="152.1" cy="265.2" r="1.7" fill="#f07018" stroke="#5a2200" stroke-width="0.7"/>
<circle cx="150.4" cy="268.0" r="1.7" fill="#f07018" stroke="#5a2200" stroke-width="0.7"/>
<circle cx="148.6" cy="270.4" r="1.7" fill="#f07018" stroke="#5a2200" stroke-width="0.7"/>
<circle cx="147.8" cy="278.3" r="1.7" fill="#f07018" stroke="#5a2200" stroke-width="0.7"/>
<circle cx="149.1" cy="280.4" r="1.7" fill="#f07018" stroke="#5a2200" stroke-width="0.7"/>
<circle cx="148.5" cy="284.7" r="1.7" fill="#f07018" stroke="#5a2200" stroke-width="0.7"/>
<circle cx="152.7" cy="286.7" r="1.7" fill="#f07018" stroke="#5a2200" stroke-width="0.7"/>
<circle cx="155.7" cy="288.6" r="1.7" fill="#f07018" stroke="#5a2200" stroke-width="0.7"/>
<circle cx="156.1" cy="296.0" r="1.7" fill="#f07018" stroke="#5a2200" stroke-width="0.7"/>
<circle cx="145.9" cy="298.8" r="1.7" fill="#f07018" stroke="#5a2200" stroke-width="0.7"/>
<circle cx="151.9" cy="301.7" r="1.7" fill="#f07018" stroke="#5a2200" stroke-width="0.7"/>
<circle cx="150.6" cy="304.1" r="1.7" fill="#f07018" stroke="#5a2200" stroke-width="0.7"/>
<line x1="237.6" y1="180.0" x2="324.5" y2="180.0" stroke="#555555" stroke-width="1"/>
<line x1="237.60" y1="180.0" x2="237.60" y2="182.2" stroke="#555555" stroke-width="1"/>
<text transform="translate(237.80,174.50) scale(1,1.15)" font-size="6.2" letter-spacing="0.2" fill="#505050" text-anchor="middle">0.0</text>
<line x1="281.05" y1="180.0" x2="281.05" y2="182.2" stroke="#555555" stroke-width="1"/>
<text transform="translate(281.25,174.50) scale(1,1.15)" font-size="6.2" letter-spacing="0.2" fill="#505050" text-anchor="middle">0.2</text>
<line x1="324.50" y1="180.0" x2="324.50" y2="182.2" stroke="#555555" stroke-width="1"/>
<text transform="translate(324.70,174.50) scale(1,1.15)" font-size="6.2" letter-spacing="0.2" fill="#505050" text-anchor="middle">0.4</text>
<text x="286.7" y="165.30" font-size="6.9" stroke="#303030" stroke-width="0.1" fill="#303030" text-anchor="middle">MnO<tspan font-size="7.5"> (wt.%)</tspan></text>
<text x="324.7" y="188.40" font-size="6.6" letter-spacing="0.15" fill="#303030" text-anchor="end">(H)</text>
<path d="M246.7,180.0 L242.8,180.8 L243.1,184.7 L244.7,188.1 L242.4,191.3 L241.1,193.5 L240.8,195.0 L239.9,199.7 L240.2,205.9 L240.5,209.4 L240.5,213.2 L238.2,213.5 L239.9,214.6 L239.4,216.3 L239.6,217.2 L258.6,219.8 L317.7,221.7 L313.8,224.1 L241.6,226.8 L240.8,228.5 L240.3,229.5 L239.9,230.9 L239.4,233.1 L240.8,234.9 L246.7,236.6 L246.5,238.1 L244.2,240.6 L262.0,245.2 L270.0,248.1 L242.2,250.0 L240.0,256.3 L251.3,259.2 L318.4,261.7 L257.0,265.2 L242.7,268.0 L252.3,270.4 L252.3,278.3 L256.3,280.4 L249.3,284.7 L250.7,286.7 L247.0,288.6 L252.6,296.0 L314.5,298.8 L255.4,301.7 L246.5,304.1" fill="none" stroke="#151515" stroke-width="1.2" stroke-dasharray="1.9,1.6"/>
<circle cx="246.7" cy="180.0" r="1.7" fill="#159015" stroke="#063306" stroke-width="0.7"/>
<circle cx="242.8" cy="180.8" r="1.7" fill="#159015" stroke="#063306" stroke-width="0.7"/>
<circle cx="243.1" cy="184.7" r="1.7" fill="#159015" stroke="#063306" stroke-width="0.7"/>
<circle cx="244.7" cy="188.1" r="1.7" fill="#159015" stroke="#063306" stroke-width="0.7"/>
<circle cx="242.4" cy="191.3" r="1.7" fill="#159015" stroke="#063306" stroke-width="0.7"/>
<circle cx="241.1" cy="193.5" r="1.7" fill="#159015" stroke="#063306" stroke-width="0.7"/>
<circle cx="240.8" cy="195.0" r="1.7" fill="#159015" stroke="#063306" stroke-width="0.7"/>
<circle cx="239.9" cy="199.7" r="1.7" fill="#159015" stroke="#063306" stroke-width="0.7"/>
<circle cx="240.2" cy="205.9" r="1.7" fill="#159015" stroke="#063306" stroke-width="0.7"/>
<circle cx="240.5" cy="209.4" r="1.7" fill="#159015" stroke="#063306" stroke-width="0.7"/>
<circle cx="240.5" cy="213.2" r="1.7" fill="#159015" stroke="#063306" stroke-width="0.7"/>
<circle cx="238.2" cy="213.5" r="1.7" fill="#159015" stroke="#063306" stroke-width="0.7"/>
<circle cx="239.9" cy="214.6" r="1.7" fill="#159015" stroke="#063306" stroke-width="0.7"/>
<circle cx="239.4" cy="216.3" r="1.7" fill="#159015" stroke="#063306" stroke-width="0.7"/>
<circle cx="239.6" cy="217.2" r="1.7" fill="#159015" stroke="#063306" stroke-width="0.7"/>
<circle cx="258.6" cy="219.8" r="1.7" fill="#159015" stroke="#063306" stroke-width="0.7"/>
<circle cx="317.7" cy="221.7" r="1.7" fill="#20a0e8" stroke="#084070" stroke-width="0.7"/>
<circle cx="313.8" cy="224.1" r="1.7" fill="#20a0e8" stroke="#084070" stroke-width="0.7"/>
<circle cx="241.6" cy="226.8" r="1.7" fill="#f07018" stroke="#5a2200" stroke-width="0.7"/>
<circle cx="240.8" cy="228.5" r="1.7" fill="#f07018" stroke="#5a2200" stroke-width="0.7"/>
<circle cx="240.3" cy="229.5" r="1.7" fill="#f07018" stroke="#5a2200" stroke-width="0.7"/>
<circle cx="239.9" cy="230.9" r="1.7" fill="#f07018" stroke="#5a2200" stroke-width="0.7"/>
<circle cx="239.4" cy="233.1" r="1.7" fill="#f07018" stroke="#5a2200" stroke-width="0.7"/>
<circle cx="240.8" cy="234.9" r="1.7" fill="#f07018" stroke="#5a2200" stroke-width="0.7"/>
<circle cx="246.7" cy="236.6" r="1.7" fill="#f07018" stroke="#5a2200" stroke-width="0.7"/>
<circle cx="246.5" cy="238.1" r="1.7" fill="#f07018" stroke="#5a2200" stroke-width="0.7"/>
<circle cx="244.2" cy="240.6" r="1.7" fill="#f07018" stroke="#5a2200" stroke-width="0.7"/>
<circle cx="262.0" cy="245.2" r="1.7" fill="#f07018" stroke="#5a2200" stroke-width="0.7"/>
<circle cx="270.0" cy="248.1" r="1.7" fill="#f07018" stroke="#5a2200" stroke-width="0.7"/>
<circle cx="242.2" cy="250.0" r="1.7" fill="#f07018" stroke="#5a2200" stroke-width="0.7"/>
<circle cx="240.0" cy="256.3" r="1.7" fill="#f07018" stroke="#5a2200" stroke-width="0.7"/>
<circle cx="251.3" cy="259.2" r="1.7" fill="#f07018" stroke="#5a2200" stroke-width="0.7"/>
<circle cx="318.4" cy="261.7" r="1.7" fill="#f07018" stroke="#5a2200" stroke-width="0.7"/>
<circle cx="257.0" cy="265.2" r="1.7" fill="#f07018" stroke="#5a2200" stroke-width="0.7"/>
<circle cx="242.7" cy="268.0" r="1.7" fill="#f07018" stroke="#5a2200" stroke-width="0.7"/>
<circle cx="252.3" cy="270.4" r="1.7" fill="#f07018" stroke="#5a2200" stroke-width="0.7"/>
<circle cx="252.3" cy="278.3" r="1.7" fill="#f07018" stroke="#5a2200" stroke-width="0.7"/>
<circle cx="256.3" cy="280.4" r="1.7" fill="#f07018" stroke="#5a2200" stroke-width="0.7"/>
<circle cx="249.3" cy="284.7" r="1.7" fill="#f07018" stroke="#5a2200" stroke-width="0.7"/>
<circle cx="250.7" cy="286.7" r="1.7" fill="#f07018" stroke="#5a2200" stroke-width="0.7"/>
<circle cx="247.0" cy="288.6" r="1.7" fill="#f07018" stroke="#5a2200" stroke-width="0.7"/>
<circle cx="252.6" cy="296.0" r="1.7" fill="#f07018" stroke="#5a2200" stroke-width="0.7"/>
<circle cx="314.5" cy="298.8" r="1.7" fill="#f07018" stroke="#5a2200" stroke-width="0.7"/>
<circle cx="255.4" cy="301.7" r="1.7" fill="#f07018" stroke="#5a2200" stroke-width="0.7"/>
<circle cx="246.5" cy="304.1" r="1.7" fill="#f07018" stroke="#5a2200" stroke-width="0.7"/>
<line x1="343.3" y1="180.0" x2="429.4" y2="180.0" stroke="#555555" stroke-width="1"/>
<line x1="343.30" y1="180.0" x2="343.30" y2="182.2" stroke="#555555" stroke-width="1"/>
<text transform="translate(343.50,174.50) scale(1,1.15)" font-size="6.2" letter-spacing="0.2" fill="#505050" text-anchor="middle">0.0</text>
<line x1="386.35" y1="180.0" x2="386.35" y2="182.2" stroke="#555555" stroke-width="1"/>
<text transform="translate(386.55,174.50) scale(1,1.15)" font-size="6.2" letter-spacing="0.2" fill="#505050" text-anchor="middle">0.5</text>
<line x1="429.40" y1="180.0" x2="429.40" y2="182.2" stroke="#555555" stroke-width="1"/>
<text transform="translate(429.60,174.50) scale(1,1.15)" font-size="6.2" letter-spacing="0.2" fill="#505050" text-anchor="middle">1.0</text>
<text x="392.0" y="165.30" font-size="6.9" stroke="#303030" stroke-width="0.1" fill="#303030" text-anchor="middle">TiO<tspan font-size="4" dy="1.2">2</tspan><tspan dy="-1.2" font-size="7.5"> (wt.%)</tspan></text>
<text x="429.59999999999997" y="188.40" font-size="6.6" letter-spacing="0.15" fill="#303030" text-anchor="end">(I)</text>
<path d="M395.5,180.0 L390.1,180.8 L386.4,184.7 L381.1,188.1 L384.1,191.3 L398.3,193.5 L381.5,195.0 L385.8,199.7 L378.1,205.9 L385.6,209.4 L383.5,213.2 L387.2,213.5 L377.9,214.6 L386.7,216.3 L390.9,217.2 L385.6,219.8 L354.3,221.7 L355.6,224.1 L360.6,226.8 L375.0,228.5 L370.5,229.5 L363.1,230.9 L360.3,233.1 L374.7,234.9 L366.5,236.6 L372.8,238.1 L384.1,240.6 L363.4,245.2 L366.8,248.1 L393.2,250.0 L380.4,256.3 L368.3,259.2 L362.9,261.7 L362.4,265.2 L376.3,268.0 L376.5,270.4 L382.3,278.3 L379.7,280.4 L380.4,284.7 L370.1,286.7 L381.2,288.6 L367.3,296.0 L374.2,298.8 L371.7,301.7 L388.7,304.1" fill="none" stroke="#151515" stroke-width="1.2" stroke-dasharray="1.9,1.6"/>
<circle cx="395.5" cy="180.0" r="1.7" fill="#159015" stroke="#063306" stroke-width="0.7"/>
<circle cx="390.1" cy="180.8" r="1.7" fill="#159015" stroke="#063306" stroke-width="0.7"/>
<circle cx="386.4" cy="184.7" r="1.7" fill="#159015" stroke="#063306" stroke-width="0.7"/>
<circle cx="381.1" cy="188.1" r="1.7" fill="#159015" stroke="#063306" stroke-width="0.7"/>
<circle cx="384.1" cy="191.3" r="1.7" fill="#159015" stroke="#063306" stroke-width="0.7"/>
<circle cx="398.3" cy="193.5" r="1.7" fill="#159015" stroke="#063306" stroke-width="0.7"/>
<circle cx="381.5" cy="195.0" r="1.7" fill="#159015" stroke="#063306" stroke-width="0.7"/>
<circle cx="385.8" cy="199.7" r="1.7" fill="#159015" stroke="#063306" stroke-width="0.7"/>
<circle cx="378.1" cy="205.9" r="1.7" fill="#159015" stroke="#063306" stroke-width="0.7"/>
<circle cx="385.6" cy="209.4" r="1.7" fill="#159015" stroke="#063306" stroke-width="0.7"/>
<circle cx="383.5" cy="213.2" r="1.7" fill="#159015" stroke="#063306" stroke-width="0.7"/>
<circle cx="387.2" cy="213.5" r="1.7" fill="#159015" stroke="#063306" stroke-width="0.7"/>
<circle cx="377.9" cy="214.6" r="1.7" fill="#159015" stroke="#063306" stroke-width="0.7"/>
<circle cx="386.7" cy="216.3" r="1.7" fill="#159015" stroke="#063306" stroke-width="0.7"/>
<circle cx="390.9" cy="217.2" r="1.7" fill="#159015" stroke="#063306" stroke-width="0.7"/>
<circle cx="385.6" cy="219.8" r="1.7" fill="#159015" stroke="#063306" stroke-width="0.7"/>
<circle cx="354.3" cy="221.7" r="1.7" fill="#20a0e8" stroke="#084070" stroke-width="0.7"/>
<circle cx="355.6" cy="224.1" r="1.7" fill="#20a0e8" stroke="#084070" stroke-width="0.7"/>
<circle cx="360.6" cy="226.8" r="1.7" fill="#f07018" stroke="#5a2200" stroke-width="0.7"/>
<circle cx="375.0" cy="228.5" r="1.7" fill="#f07018" stroke="#5a2200" stroke-width="0.7"/>
<circle cx="370.5" cy="229.5" r="1.7" fill="#f07018" stroke="#5a2200" stroke-width="0.7"/>
<circle cx="363.1" cy="230.9" r="1.7" fill="#f07018" stroke="#5a2200" stroke-width="0.7"/>
<circle cx="360.3" cy="233.1" r="1.7" fill="#f07018" stroke="#5a2200" stroke-width="0.7"/>
<circle cx="374.7" cy="234.9" r="1.7" fill="#f07018" stroke="#5a2200" stroke-width="0.7"/>
<circle cx="366.5" cy="236.6" r="1.7" fill="#f07018" stroke="#5a2200" stroke-width="0.7"/>
<circle cx="372.8" cy="238.1" r="1.7" fill="#f07018" stroke="#5a2200" stroke-width="0.7"/>
<circle cx="384.1" cy="240.6" r="1.7" fill="#f07018" stroke="#5a2200" stroke-width="0.7"/>
<circle cx="363.4" cy="245.2" r="1.7" fill="#f07018" stroke="#5a2200" stroke-width="0.7"/>
<circle cx="366.8" cy="248.1" r="1.7" fill="#f07018" stroke="#5a2200" stroke-width="0.7"/>
<circle cx="393.2" cy="250.0" r="1.7" fill="#f07018" stroke="#5a2200" stroke-width="0.7"/>
<circle cx="380.4" cy="256.3" r="1.7" fill="#f07018" stroke="#5a2200" stroke-width="0.7"/>
<circle cx="368.3" cy="259.2" r="1.7" fill="#f07018" stroke="#5a2200" stroke-width="0.7"/>
<circle cx="362.9" cy="261.7" r="1.7" fill="#f07018" stroke="#5a2200" stroke-width="0.7"/>
<circle cx="362.4" cy="265.2" r="1.7" fill="#f07018" stroke="#5a2200" stroke-width="0.7"/>
<circle cx="376.3" cy="268.0" r="1.7" fill="#f07018" stroke="#5a2200" stroke-width="0.7"/>
<circle cx="376.5" cy="270.4" r="1.7" fill="#f07018" stroke="#5a2200" stroke-width="0.7"/>
<circle cx="382.3" cy="278.3" r="1.7" fill="#f07018" stroke="#5a2200" stroke-width="0.7"/>
<circle cx="379.7" cy="280.4" r="1.7" fill="#f07018" stroke="#5a2200" stroke-width="0.7"/>
<circle cx="380.4" cy="284.7" r="1.7" fill="#f07018" stroke="#5a2200" stroke-width="0.7"/>
<circle cx="370.1" cy="286.7" r="1.7" fill="#f07018" stroke="#5a2200" stroke-width="0.7"/>
<circle cx="381.2" cy="288.6" r="1.7" fill="#f07018" stroke="#5a2200" stroke-width="0.7"/>
<circle cx="367.3" cy="296.0" r="1.7" fill="#f07018" stroke="#5a2200" stroke-width="0.7"/>
<circle cx="374.2" cy="298.8" r="1.7" fill="#f07018" stroke="#5a2200" stroke-width="0.7"/>
<circle cx="371.7" cy="301.7" r="1.7" fill="#f07018" stroke="#5a2200" stroke-width="0.7"/>
<circle cx="388.7" cy="304.1" r="1.7" fill="#f07018" stroke="#5a2200" stroke-width="0.7"/>
<line x1="447.6" y1="180.0" x2="534.9" y2="180.0" stroke="#555555" stroke-width="1"/>
<line x1="447.60" y1="180.0" x2="447.60" y2="182.2" stroke="#555555" stroke-width="1"/>
<text transform="translate(447.80,174.50) scale(1,1.15)" font-size="6.2" letter-spacing="0.2" fill="#505050" text-anchor="middle">0.0</text>
<line x1="476.70" y1="180.0" x2="476.70" y2="182.2" stroke="#555555" stroke-width="1"/>
<text transform="translate(476.90,174.50) scale(1,1.15)" font-size="6.2" letter-spacing="0.2" fill="#505050" text-anchor="middle">0.1</text>
<line x1="505.80" y1="180.0" x2="505.80" y2="182.2" stroke="#555555" stroke-width="1"/>
<text transform="translate(506.00,174.50) scale(1,1.15)" font-size="6.2" letter-spacing="0.2" fill="#505050" text-anchor="middle">0.2</text>
<line x1="534.90" y1="180.0" x2="534.90" y2="182.2" stroke="#555555" stroke-width="1"/>
<text transform="translate(535.10,174.50) scale(1,1.15)" font-size="6.2" letter-spacing="0.2" fill="#505050" text-anchor="middle">0.3</text>
<text x="496.3" y="165.30" font-size="6.9" stroke="#303030" stroke-width="0.1" fill="#303030" text-anchor="middle">P<tspan font-size="4" dy="1.2">2</tspan><tspan dy="-1.2">O</tspan><tspan font-size="4" dy="1.2">5</tspan><tspan dy="-1.2" font-size="7.5"> (wt.%)</tspan></text>
<text x="535.1" y="188.40" font-size="6.6" letter-spacing="0.15" fill="#303030" text-anchor="end">(J)</text>
<path d="M499.8,180.0 L489.6,180.8 L496.0,184.7 L479.2,188.1 L493.2,191.3 L475.6,193.5 L495.5,195.0 L498.0,199.7 L473.1,205.9 L482.0,209.4 L476.0,213.2 L479.8,213.5 L475.1,214.6 L479.8,216.3 L488.7,217.2 L509.5,219.8 L483.6,221.7 L490.9,224.1 L468.7,226.8 L476.9,228.5 L469.0,229.5 L468.9,230.9 L467.6,233.1 L476.9,234.9 L475.4,236.6 L473.8,238.1 L480.0,240.6 L463.3,245.2 L470.9,248.1 L474.1,250.0 L475.4,256.3 L460.7,259.2 L498.5,261.7 L466.2,265.2 L466.7,268.0 L466.7,270.4 L467.5,278.3 L509.5,280.4 L476.4,284.7 L493.4,286.7 L481.1,288.6 L464.2,296.0 L477.3,298.8 L509.1,301.7 L474.3,304.1" fill="none" stroke="#151515" stroke-width="1.2" stroke-dasharray="1.9,1.6"/>
<circle cx="499.8" cy="180.0" r="1.7" fill="#159015" stroke="#063306" stroke-width="0.7"/>
<circle cx="489.6" cy="180.8" r="1.7" fill="#159015" stroke="#063306" stroke-width="0.7"/>
<circle cx="496.0" cy="184.7" r="1.7" fill="#159015" stroke="#063306" stroke-width="0.7"/>
<circle cx="479.2" cy="188.1" r="1.7" fill="#159015" stroke="#063306" stroke-width="0.7"/>
<circle cx="493.2" cy="191.3" r="1.7" fill="#159015" stroke="#063306" stroke-width="0.7"/>
<circle cx="475.6" cy="193.5" r="1.7" fill="#159015" stroke="#063306" stroke-width="0.7"/>
<circle cx="495.5" cy="195.0" r="1.7" fill="#159015" stroke="#063306" stroke-width="0.7"/>
<circle cx="498.0" cy="199.7" r="1.7" fill="#159015" stroke="#063306" stroke-width="0.7"/>
<circle cx="473.1" cy="205.9" r="1.7" fill="#159015" stroke="#063306" stroke-width="0.7"/>
<circle cx="482.0" cy="209.4" r="1.7" fill="#159015" stroke="#063306" stroke-width="0.7"/>
<circle cx="476.0" cy="213.2" r="1.7" fill="#159015" stroke="#063306" stroke-width="0.7"/>
<circle cx="479.8" cy="213.5" r="1.7" fill="#159015" stroke="#063306" stroke-width="0.7"/>
<circle cx="475.1" cy="214.6" r="1.7" fill="#159015" stroke="#063306" stroke-width="0.7"/>
<circle cx="479.8" cy="216.3" r="1.7" fill="#159015" stroke="#063306" stroke-width="0.7"/>
<circle cx="488.7" cy="217.2" r="1.7" fill="#159015" stroke="#063306" stroke-width="0.7"/>
<circle cx="509.5" cy="219.8" r="1.7" fill="#159015" stroke="#063306" stroke-width="0.7"/>
<circle cx="483.6" cy="221.7" r="1.7" fill="#20a0e8" stroke="#084070" stroke-width="0.7"/>
<circle cx="490.9" cy="224.1" r="1.7" fill="#20a0e8" stroke="#084070" stroke-width="0.7"/>
<circle cx="468.7" cy="226.8" r="1.7" fill="#f07018" stroke="#5a2200" stroke-width="0.7"/>
<circle cx="476.9" cy="228.5" r="1.7" fill="#f07018" stroke="#5a2200" stroke-width="0.7"/>
<circle cx="469.0" cy="229.5" r="1.7" fill="#f07018" stroke="#5a2200" stroke-width="0.7"/>
<circle cx="468.9" cy="230.9" r="1.7" fill="#f07018" stroke="#5a2200" stroke-width="0.7"/>
<circle cx="467.6" cy="233.1" r="1.7" fill="#f07018" stroke="#5a2200" stroke-width="0.7"/>
<circle cx="476.9" cy="234.9" r="1.7" fill="#f07018" stroke="#5a2200" stroke-width="0.7"/>
<circle cx="475.4" cy="236.6" r="1.7" fill="#f07018" stroke="#5a2200" stroke-width="0.7"/>
<circle cx="473.8" cy="238.1" r="1.7" fill="#f07018" stroke="#5a2200" stroke-width="0.7"/>
<circle cx="480.0" cy="240.6" r="1.7" fill="#f07018" stroke="#5a2200" stroke-width="0.7"/>
<circle cx="463.3" cy="245.2" r="1.7" fill="#f07018" stroke="#5a2200" stroke-width="0.7"/>
<circle cx="470.9" cy="248.1" r="1.7" fill="#f07018" stroke="#5a2200" stroke-width="0.7"/>
<circle cx="474.1" cy="250.0" r="1.7" fill="#f07018" stroke="#5a2200" stroke-width="0.7"/>
<circle cx="475.4" cy="256.3" r="1.7" fill="#f07018" stroke="#5a2200" stroke-width="0.7"/>
<circle cx="460.7" cy="259.2" r="1.7" fill="#f07018" stroke="#5a2200" stroke-width="0.7"/>
<circle cx="498.5" cy="261.7" r="1.7" fill="#f07018" stroke="#5a2200" stroke-width="0.7"/>
<circle cx="466.2" cy="265.2" r="1.7" fill="#f07018" stroke="#5a2200" stroke-width="0.7"/>
<circle cx="466.7" cy="268.0" r="1.7" fill="#f07018" stroke="#5a2200" stroke-width="0.7"/>
<circle cx="466.7" cy="270.4" r="1.7" fill="#f07018" stroke="#5a2200" stroke-width="0.7"/>
<circle cx="467.5" cy="278.3" r="1.7" fill="#f07018" stroke="#5a2200" stroke-width="0.7"/>
<circle cx="509.5" cy="280.4" r="1.7" fill="#f07018" stroke="#5a2200" stroke-width="0.7"/>
<circle cx="476.4" cy="284.7" r="1.7" fill="#f07018" stroke="#5a2200" stroke-width="0.7"/>
<circle cx="493.4" cy="286.7" r="1.7" fill="#f07018" stroke="#5a2200" stroke-width="0.7"/>
<circle cx="481.1" cy="288.6" r="1.7" fill="#f07018" stroke="#5a2200" stroke-width="0.7"/>
<circle cx="464.2" cy="296.0" r="1.7" fill="#f07018" stroke="#5a2200" stroke-width="0.7"/>
<circle cx="477.3" cy="298.8" r="1.7" fill="#f07018" stroke="#5a2200" stroke-width="0.7"/>
<circle cx="509.1" cy="301.7" r="1.7" fill="#f07018" stroke="#5a2200" stroke-width="0.7"/>
<circle cx="474.3" cy="304.1" r="1.7" fill="#f07018" stroke="#5a2200" stroke-width="0.7"/>
<line x1="20.7" y1="337.8" x2="106.6" y2="337.8" stroke="#555555" stroke-width="1"/>
<line x1="20.70" y1="337.8" x2="20.70" y2="340.0" stroke="#555555" stroke-width="1"/>
<text transform="translate(20.90,332.10) scale(1,1.15)" font-size="6.2" letter-spacing="0.2" fill="#505050" text-anchor="middle">0</text>
<line x1="37.88" y1="337.8" x2="37.88" y2="340.0" stroke="#555555" stroke-width="1"/>
<text transform="translate(38.08,332.10) scale(1,1.15)" font-size="6.2" letter-spacing="0.2" fill="#505050" text-anchor="middle">2</text>
<line x1="55.06" y1="337.8" x2="55.06" y2="340.0" stroke="#555555" stroke-width="1"/>
<text transform="translate(55.26,332.10) scale(1,1.15)" font-size="6.2" letter-spacing="0.2" fill="#505050" text-anchor="middle">4</text>
<line x1="72.24" y1="337.8" x2="72.24" y2="340.0" stroke="#555555" stroke-width="1"/>
<text transform="translate(72.44,332.10) scale(1,1.15)" font-size="6.2" letter-spacing="0.2" fill="#505050" text-anchor="middle">6</text>
<line x1="89.42" y1="337.8" x2="89.42" y2="340.0" stroke="#555555" stroke-width="1"/>
<text transform="translate(89.62,332.10) scale(1,1.15)" font-size="6.2" letter-spacing="0.2" fill="#505050" text-anchor="middle">8</text>
<line x1="106.60" y1="337.8" x2="106.60" y2="340.0" stroke="#555555" stroke-width="1"/>
<text transform="translate(106.80,332.10) scale(1,1.15)" font-size="6.2" letter-spacing="0.2" fill="#505050" text-anchor="middle">10</text>
<text x="64.7" y="323.60" font-size="6.9" stroke="#303030" stroke-width="0.1" fill="#303030" text-anchor="middle">TOC (%)</text>
<text x="106.8" y="346.20" font-size="6.6" letter-spacing="0.15" fill="#303030" text-anchor="end">(K)</text>
<path d="M66.5,337.8 L73.3,338.6 L61.7,342.5 L61.1,345.9 L67.2,349.1 L73.3,351.3 L68.3,352.8 L73.7,357.5 L72.0,363.8 L73.2,367.3 L72.8,371.1 L72.9,371.4 L79.0,372.5 L83.5,374.2 L89.6,375.1 L102.0,377.7 L86.0,379.6 L62.5,382.0 L62.5,384.7 L76.5,386.4 L68.1,387.4 L55.4,388.7 L64.7,390.9 L66.7,392.7 L55.8,394.4 L62.2,395.9 L58.3,398.4 L56.2,403.0 L54.5,405.9 L58.3,407.8 L65.1,414.2 L57.5,417.1 L43.8,419.6 L50.5,423.1 L47.3,425.9 L44.0,428.3 L50.2,436.2 L43.5,438.3 L51.7,442.6 L44.7,444.6 L45.4,446.5 L40.9,453.9 L46.4,456.7 L43.5,459.6 L46.0,462.0" fill="none" stroke="#151515" stroke-width="1.2" stroke-dasharray="1.9,1.6"/>
<circle cx="66.5" cy="337.8" r="1.7" fill="#159015" stroke="#063306" stroke-width="0.7"/>
<circle cx="73.3" cy="338.6" r="1.7" fill="#159015" stroke="#063306" stroke-width="0.7"/>
<circle cx="61.7" cy="342.5" r="1.7" fill="#159015" stroke="#063306" stroke-width="0.7"/>
<circle cx="61.1" cy="345.9" r="1.7" fill="#159015" stroke="#063306" stroke-width="0.7"/>
<circle cx="67.2" cy="349.1" r="1.7" fill="#159015" stroke="#063306" stroke-width="0.7"/>
<circle cx="73.3" cy="351.3" r="1.7" fill="#159015" stroke="#063306" stroke-width="0.7"/>
<circle cx="68.3" cy="352.8" r="1.7" fill="#159015" stroke="#063306" stroke-width="0.7"/>
<circle cx="73.7" cy="357.5" r="1.7" fill="#159015" stroke="#063306" stroke-width="0.7"/>
<circle cx="72.0" cy="363.8" r="1.7" fill="#159015" stroke="#063306" stroke-width="0.7"/>
<circle cx="73.2" cy="367.3" r="1.7" fill="#159015" stroke="#063306" stroke-width="0.7"/>
<circle cx="72.8" cy="371.1" r="1.7" fill="#159015" stroke="#063306" stroke-width="0.7"/>
<circle cx="72.9" cy="371.4" r="1.7" fill="#159015" stroke="#063306" stroke-width="0.7"/>
<circle cx="79.0" cy="372.5" r="1.7" fill="#159015" stroke="#063306" stroke-width="0.7"/>
<circle cx="83.5" cy="374.2" r="1.7" fill="#159015" stroke="#063306" stroke-width="0.7"/>
<circle cx="89.6" cy="375.1" r="1.7" fill="#159015" stroke="#063306" stroke-width="0.7"/>
<circle cx="102.0" cy="377.7" r="1.7" fill="#159015" stroke="#063306" stroke-width="0.7"/>
<circle cx="86.0" cy="379.6" r="1.7" fill="#20a0e8" stroke="#084070" stroke-width="0.7"/>
<circle cx="62.5" cy="382.0" r="1.7" fill="#20a0e8" stroke="#084070" stroke-width="0.7"/>
<circle cx="62.5" cy="384.7" r="1.7" fill="#f07018" stroke="#5a2200" stroke-width="0.7"/>
<circle cx="76.5" cy="386.4" r="1.7" fill="#f07018" stroke="#5a2200" stroke-width="0.7"/>
<circle cx="68.1" cy="387.4" r="1.7" fill="#f07018" stroke="#5a2200" stroke-width="0.7"/>
<circle cx="55.4" cy="388.7" r="1.7" fill="#f07018" stroke="#5a2200" stroke-width="0.7"/>
<circle cx="64.7" cy="390.9" r="1.7" fill="#f07018" stroke="#5a2200" stroke-width="0.7"/>
<circle cx="66.7" cy="392.7" r="1.7" fill="#f07018" stroke="#5a2200" stroke-width="0.7"/>
<circle cx="55.8" cy="394.4" r="1.7" fill="#f07018" stroke="#5a2200" stroke-width="0.7"/>
<circle cx="62.2" cy="395.9" r="1.7" fill="#f07018" stroke="#5a2200" stroke-width="0.7"/>
<circle cx="58.3" cy="398.4" r="1.7" fill="#f07018" stroke="#5a2200" stroke-width="0.7"/>
<circle cx="56.2" cy="403.0" r="1.7" fill="#f07018" stroke="#5a2200" stroke-width="0.7"/>
<circle cx="54.5" cy="405.9" r="1.7" fill="#f07018" stroke="#5a2200" stroke-width="0.7"/>
<circle cx="58.3" cy="407.8" r="1.7" fill="#f07018" stroke="#5a2200" stroke-width="0.7"/>
<circle cx="65.1" cy="414.2" r="1.7" fill="#f07018" stroke="#5a2200" stroke-width="0.7"/>
<circle cx="57.5" cy="417.1" r="1.7" fill="#f07018" stroke="#5a2200" stroke-width="0.7"/>
<circle cx="43.8" cy="419.6" r="1.7" fill="#f07018" stroke="#5a2200" stroke-width="0.7"/>
<circle cx="50.5" cy="423.1" r="1.7" fill="#f07018" stroke="#5a2200" stroke-width="0.7"/>
<circle cx="47.3" cy="425.9" r="1.7" fill="#f07018" stroke="#5a2200" stroke-width="0.7"/>
<circle cx="44.0" cy="428.3" r="1.7" fill="#f07018" stroke="#5a2200" stroke-width="0.7"/>
<circle cx="50.2" cy="436.2" r="1.7" fill="#f07018" stroke="#5a2200" stroke-width="0.7"/>
<circle cx="43.5" cy="438.3" r="1.7" fill="#f07018" stroke="#5a2200" stroke-width="0.7"/>
<circle cx="51.7" cy="442.6" r="1.7" fill="#f07018" stroke="#5a2200" stroke-width="0.7"/>
<circle cx="44.7" cy="444.6" r="1.7" fill="#f07018" stroke="#5a2200" stroke-width="0.7"/>
<circle cx="45.4" cy="446.5" r="1.7" fill="#f07018" stroke="#5a2200" stroke-width="0.7"/>
<circle cx="40.9" cy="453.9" r="1.7" fill="#f07018" stroke="#5a2200" stroke-width="0.7"/>
<circle cx="46.4" cy="456.7" r="1.7" fill="#f07018" stroke="#5a2200" stroke-width="0.7"/>
<circle cx="43.5" cy="459.6" r="1.7" fill="#f07018" stroke="#5a2200" stroke-width="0.7"/>
<circle cx="46.0" cy="462.0" r="1.7" fill="#f07018" stroke="#5a2200" stroke-width="0.7"/>
<line x1="125.1" y1="337.8" x2="210.9" y2="337.8" stroke="#555555" stroke-width="1"/>
<line x1="125.10" y1="337.8" x2="125.10" y2="340.0" stroke="#555555" stroke-width="1"/>
<text transform="translate(125.30,332.10) scale(1,1.15)" font-size="6.2" letter-spacing="0.2" fill="#505050" text-anchor="middle">0</text>
<line x1="146.55" y1="337.8" x2="146.55" y2="340.0" stroke="#555555" stroke-width="1"/>
<text transform="translate(146.75,332.10) scale(1,1.15)" font-size="6.2" letter-spacing="0.2" fill="#505050" text-anchor="middle">2</text>
<line x1="168.00" y1="337.8" x2="168.00" y2="340.0" stroke="#555555" stroke-width="1"/>
<text transform="translate(168.20,332.10) scale(1,1.15)" font-size="6.2" letter-spacing="0.2" fill="#505050" text-anchor="middle">4</text>
<line x1="189.45" y1="337.8" x2="189.45" y2="340.0" stroke="#555555" stroke-width="1"/>
<text transform="translate(189.65,332.10) scale(1,1.15)" font-size="6.2" letter-spacing="0.2" fill="#505050" text-anchor="middle">6</text>
<line x1="210.90" y1="337.8" x2="210.90" y2="340.0" stroke="#555555" stroke-width="1"/>
<text transform="translate(211.10,332.10) scale(1,1.15)" font-size="6.2" letter-spacing="0.2" fill="#505050" text-anchor="middle">8</text>
<text x="168.6" y="323.60" font-size="6.9" stroke="#303030" stroke-width="0.1" fill="#303030" text-anchor="middle">S (%)</text>
<text x="211.1" y="346.20" font-size="6.6" letter-spacing="0.15" fill="#303030" text-anchor="end">(L)</text>
<path d="M197.7,337.8 L152.3,338.6 L143.6,342.5 L170.8,345.9 L179.5,349.1 L143.6,351.3 L142.5,352.8 L145.1,357.5 L142.7,363.8 L143.9,367.3 L149.0,371.1 L147.5,371.4 L138.4,372.5 L149.4,374.2 L162.5,375.1 L154.1,377.7 L129.4,379.6 L134.5,382.0 L132.0,384.7 L146.0,386.4 L138.7,387.4 L132.4,388.7 L139.7,390.9 L146.0,392.7 L141.4,394.4 L140.9,395.9 L140.9,398.4 L142.6,403.0 L132.7,405.9 L132.0,407.8 L139.2,414.2 L130.9,417.1 L136.1,419.6 L129.5,423.1 L131.5,425.9 L129.5,428.3 L129.5,436.2 L126.7,438.3 L128.4,442.6 L135.0,444.6 L132.8,446.5 L132.5,453.9 L128.7,456.7 L128.0,459.6 L130.0,462.0" fill="none" stroke="#151515" stroke-width="1.2" stroke-dasharray="1.9,1.6"/>
<circle cx="197.7" cy="337.8" r="1.7" fill="#159015" stroke="#063306" stroke-width="0.7"/>
<circle cx="152.3" cy="338.6" r="1.7" fill="#159015" stroke="#063306" stroke-width="0.7"/>
<circle cx="143.6" cy="342.5" r="1.7" fill="#159015" stroke="#063306" stroke-width="0.7"/>
<circle cx="170.8" cy="345.9" r="1.7" fill="#159015" stroke="#063306" stroke-width="0.7"/>
<circle cx="179.5" cy="349.1" r="1.7" fill="#159015" stroke="#063306" stroke-width="0.7"/>
<circle cx="143.6" cy="351.3" r="1.7" fill="#159015" stroke="#063306" stroke-width="0.7"/>
<circle cx="142.5" cy="352.8" r="1.7" fill="#159015" stroke="#063306" stroke-width="0.7"/>
<circle cx="145.1" cy="357.5" r="1.7" fill="#159015" stroke="#063306" stroke-width="0.7"/>
<circle cx="142.7" cy="363.8" r="1.7" fill="#159015" stroke="#063306" stroke-width="0.7"/>
<circle cx="143.9" cy="367.3" r="1.7" fill="#159015" stroke="#063306" stroke-width="0.7"/>
<circle cx="149.0" cy="371.1" r="1.7" fill="#159015" stroke="#063306" stroke-width="0.7"/>
<circle cx="147.5" cy="371.4" r="1.7" fill="#159015" stroke="#063306" stroke-width="0.7"/>
<circle cx="138.4" cy="372.5" r="1.7" fill="#159015" stroke="#063306" stroke-width="0.7"/>
<circle cx="149.4" cy="374.2" r="1.7" fill="#159015" stroke="#063306" stroke-width="0.7"/>
<circle cx="162.5" cy="375.1" r="1.7" fill="#159015" stroke="#063306" stroke-width="0.7"/>
<circle cx="154.1" cy="377.7" r="1.7" fill="#159015" stroke="#063306" stroke-width="0.7"/>
<circle cx="129.4" cy="379.6" r="1.7" fill="#20a0e8" stroke="#084070" stroke-width="0.7"/>
<circle cx="134.5" cy="382.0" r="1.7" fill="#20a0e8" stroke="#084070" stroke-width="0.7"/>
<circle cx="132.0" cy="384.7" r="1.7" fill="#f07018" stroke="#5a2200" stroke-width="0.7"/>
<circle cx="146.0" cy="386.4" r="1.7" fill="#f07018" stroke="#5a2200" stroke-width="0.7"/>
<circle cx="138.7" cy="387.4" r="1.7" fill="#f07018" stroke="#5a2200" stroke-width="0.7"/>
<circle cx="132.4" cy="388.7" r="1.7" fill="#f07018" stroke="#5a2200" stroke-width="0.7"/>
<circle cx="139.7" cy="390.9" r="1.7" fill="#f07018" stroke="#5a2200" stroke-width="0.7"/>
<circle cx="146.0" cy="392.7" r="1.7" fill="#f07018" stroke="#5a2200" stroke-width="0.7"/>
<circle cx="141.4" cy="394.4" r="1.7" fill="#f07018" stroke="#5a2200" stroke-width="0.7"/>
<circle cx="140.9" cy="395.9" r="1.7" fill="#f07018" stroke="#5a2200" stroke-width="0.7"/>
<circle cx="140.9" cy="398.4" r="1.7" fill="#f07018" stroke="#5a2200" stroke-width="0.7"/>
<circle cx="142.6" cy="403.0" r="1.7" fill="#f07018" stroke="#5a2200" stroke-width="0.7"/>
<circle cx="132.7" cy="405.9" r="1.7" fill="#f07018" stroke="#5a2200" stroke-width="0.7"/>
<circle cx="132.0" cy="407.8" r="1.7" fill="#f07018" stroke="#5a2200" stroke-width="0.7"/>
<circle cx="139.2" cy="414.2" r="1.7" fill="#f07018" stroke="#5a2200" stroke-width="0.7"/>
<circle cx="130.9" cy="417.1" r="1.7" fill="#f07018" stroke="#5a2200" stroke-width="0.7"/>
<circle cx="136.1" cy="419.6" r="1.7" fill="#f07018" stroke="#5a2200" stroke-width="0.7"/>
<circle cx="129.5" cy="423.1" r="1.7" fill="#f07018" stroke="#5a2200" stroke-width="0.7"/>
<circle cx="131.5" cy="425.9" r="1.7" fill="#f07018" stroke="#5a2200" stroke-width="0.7"/>
<circle cx="129.5" cy="428.3" r="1.7" fill="#f07018" stroke="#5a2200" stroke-width="0.7"/>
<circle cx="129.5" cy="436.2" r="1.7" fill="#f07018" stroke="#5a2200" stroke-width="0.7"/>
<circle cx="126.7" cy="438.3" r="1.7" fill="#f07018" stroke="#5a2200" stroke-width="0.7"/>
<circle cx="128.4" cy="442.6" r="1.7" fill="#f07018" stroke="#5a2200" stroke-width="0.7"/>
<circle cx="135.0" cy="444.6" r="1.7" fill="#f07018" stroke="#5a2200" stroke-width="0.7"/>
<circle cx="132.8" cy="446.5" r="1.7" fill="#f07018" stroke="#5a2200" stroke-width="0.7"/>
<circle cx="132.5" cy="453.9" r="1.7" fill="#f07018" stroke="#5a2200" stroke-width="0.7"/>
<circle cx="128.7" cy="456.7" r="1.7" fill="#f07018" stroke="#5a2200" stroke-width="0.7"/>
<circle cx="128.0" cy="459.6" r="1.7" fill="#f07018" stroke="#5a2200" stroke-width="0.7"/>
<circle cx="130.0" cy="462.0" r="1.7" fill="#f07018" stroke="#5a2200" stroke-width="0.7"/>
<line x1="229.4" y1="337.8" x2="320.2" y2="337.8" stroke="#555555" stroke-width="1"/>
<line x1="229.40" y1="337.8" x2="229.40" y2="340.0" stroke="#555555" stroke-width="1"/>
<text transform="translate(229.60,332.10) scale(1,1.15)" font-size="6.2" letter-spacing="0.2" fill="#505050" text-anchor="middle">0.0</text>
<line x1="259.67" y1="337.8" x2="259.67" y2="340.0" stroke="#555555" stroke-width="1"/>
<text transform="translate(259.87,332.10) scale(1,1.15)" font-size="6.2" letter-spacing="0.2" fill="#505050" text-anchor="middle">0.5</text>
<line x1="289.93" y1="337.8" x2="289.93" y2="340.0" stroke="#555555" stroke-width="1"/>
<text transform="translate(290.13,332.10) scale(1,1.15)" font-size="6.2" letter-spacing="0.2" fill="#505050" text-anchor="middle">1.0</text>
<line x1="320.20" y1="337.8" x2="320.20" y2="340.0" stroke="#555555" stroke-width="1"/>
<text transform="translate(320.40,332.10) scale(1,1.15)" font-size="6.2" letter-spacing="0.2" fill="#505050" text-anchor="middle">1.5</text>
<text x="275.5" y="323.60" font-size="6.9" stroke="#303030" stroke-width="0.1" fill="#303030" text-anchor="middle">S/Fe</text>
<text x="320.4" y="346.20" font-size="6.6" letter-spacing="0.15" fill="#303030" text-anchor="end">(M)</text>
<path d="M305.7,337.8 L283.6,338.6 L272.3,342.5 L299.3,345.9 L311.0,349.1 L280.4,351.3 L283.9,352.8 L288.7,357.5 L288.0,363.8 L282.5,367.3 L287.3,371.1 L283.3,371.4 L274.6,372.5 L286.5,374.2 L290.9,375.1 L281.0,377.7 L238.4,379.6 L247.5,382.0 L270.3,384.7 L287.7,386.4 L282.3,387.4 L269.4,388.7 L295.0,390.9 L284.4,392.7 L276.8,394.4 L275.9,395.9 L274.3,398.4 L264.1,403.0 L241.2,405.9 L258.1,407.8 L279.7,414.2 L246.3,417.1 L237.3,419.6 L239.9,423.1 L258.1,425.9 L243.5,428.3 L239.0,436.2 L234.3,438.3 L239.4,442.6 L252.1,444.6 L252.1,446.5 L246.6,453.9 L233.0,456.7 L237.1,459.6 L240.9,462.0" fill="none" stroke="#151515" stroke-width="1.2" stroke-dasharray="1.9,1.6"/>
<circle cx="305.7" cy="337.8" r="1.7" fill="#159015" stroke="#063306" stroke-width="0.7"/>
<circle cx="283.6" cy="338.6" r="1.7" fill="#159015" stroke="#063306" stroke-width="0.7"/>
<circle cx="272.3" cy="342.5" r="1.7" fill="#159015" stroke="#063306" stroke-width="0.7"/>
<circle cx="299.3" cy="345.9" r="1.7" fill="#159015" stroke="#063306" stroke-width="0.7"/>
<circle cx="311.0" cy="349.1" r="1.7" fill="#159015" stroke="#063306" stroke-width="0.7"/>
<circle cx="280.4" cy="351.3" r="1.7" fill="#159015" stroke="#063306" stroke-width="0.7"/>
<circle cx="283.9" cy="352.8" r="1.7" fill="#159015" stroke="#063306" stroke-width="0.7"/>
<circle cx="288.7" cy="357.5" r="1.7" fill="#159015" stroke="#063306" stroke-width="0.7"/>
<circle cx="288.0" cy="363.8" r="1.7" fill="#159015" stroke="#063306" stroke-width="0.7"/>
<circle cx="282.5" cy="367.3" r="1.7" fill="#159015" stroke="#063306" stroke-width="0.7"/>
<circle cx="287.3" cy="371.1" r="1.7" fill="#159015" stroke="#063306" stroke-width="0.7"/>
<circle cx="283.3" cy="371.4" r="1.7" fill="#159015" stroke="#063306" stroke-width="0.7"/>
<circle cx="274.6" cy="372.5" r="1.7" fill="#159015" stroke="#063306" stroke-width="0.7"/>
<circle cx="286.5" cy="374.2" r="1.7" fill="#159015" stroke="#063306" stroke-width="0.7"/>
<circle cx="290.9" cy="375.1" r="1.7" fill="#159015" stroke="#063306" stroke-width="0.7"/>
<circle cx="281.0" cy="377.7" r="1.7" fill="#159015" stroke="#063306" stroke-width="0.7"/>
<circle cx="238.4" cy="379.6" r="1.7" fill="#20a0e8" stroke="#084070" stroke-width="0.7"/>
<circle cx="247.5" cy="382.0" r="1.7" fill="#20a0e8" stroke="#084070" stroke-width="0.7"/>
<circle cx="270.3" cy="384.7" r="1.7" fill="#f07018" stroke="#5a2200" stroke-width="0.7"/>
<circle cx="287.7" cy="386.4" r="1.7" fill="#f07018" stroke="#5a2200" stroke-width="0.7"/>
<circle cx="282.3" cy="387.4" r="1.7" fill="#f07018" stroke="#5a2200" stroke-width="0.7"/>
<circle cx="269.4" cy="388.7" r="1.7" fill="#f07018" stroke="#5a2200" stroke-width="0.7"/>
<circle cx="295.0" cy="390.9" r="1.7" fill="#f07018" stroke="#5a2200" stroke-width="0.7"/>
<circle cx="284.4" cy="392.7" r="1.7" fill="#f07018" stroke="#5a2200" stroke-width="0.7"/>
<circle cx="276.8" cy="394.4" r="1.7" fill="#f07018" stroke="#5a2200" stroke-width="0.7"/>
<circle cx="275.9" cy="395.9" r="1.7" fill="#f07018" stroke="#5a2200" stroke-width="0.7"/>
<circle cx="274.3" cy="398.4" r="1.7" fill="#f07018" stroke="#5a2200" stroke-width="0.7"/>
<circle cx="264.1" cy="403.0" r="1.7" fill="#f07018" stroke="#5a2200" stroke-width="0.7"/>
<circle cx="241.2" cy="405.9" r="1.7" fill="#f07018" stroke="#5a2200" stroke-width="0.7"/>
<circle cx="258.1" cy="407.8" r="1.7" fill="#f07018" stroke="#5a2200" stroke-width="0.7"/>
<circle cx="279.7" cy="414.2" r="1.7" fill="#f07018" stroke="#5a2200" stroke-width="0.7"/>
<circle cx="246.3" cy="417.1" r="1.7" fill="#f07018" stroke="#5a2200" stroke-width="0.7"/>
<circle cx="237.3" cy="419.6" r="1.7" fill="#f07018" stroke="#5a2200" stroke-width="0.7"/>
<circle cx="239.9" cy="423.1" r="1.7" fill="#f07018" stroke="#5a2200" stroke-width="0.7"/>
<circle cx="258.1" cy="425.9" r="1.7" fill="#f07018" stroke="#5a2200" stroke-width="0.7"/>
<circle cx="243.5" cy="428.3" r="1.7" fill="#f07018" stroke="#5a2200" stroke-width="0.7"/>
<circle cx="239.0" cy="436.2" r="1.7" fill="#f07018" stroke="#5a2200" stroke-width="0.7"/>
<circle cx="234.3" cy="438.3" r="1.7" fill="#f07018" stroke="#5a2200" stroke-width="0.7"/>
<circle cx="239.4" cy="442.6" r="1.7" fill="#f07018" stroke="#5a2200" stroke-width="0.7"/>
<circle cx="252.1" cy="444.6" r="1.7" fill="#f07018" stroke="#5a2200" stroke-width="0.7"/>
<circle cx="252.1" cy="446.5" r="1.7" fill="#f07018" stroke="#5a2200" stroke-width="0.7"/>
<circle cx="246.6" cy="453.9" r="1.7" fill="#f07018" stroke="#5a2200" stroke-width="0.7"/>
<circle cx="233.0" cy="456.7" r="1.7" fill="#f07018" stroke="#5a2200" stroke-width="0.7"/>
<circle cx="237.1" cy="459.6" r="1.7" fill="#f07018" stroke="#5a2200" stroke-width="0.7"/>
<circle cx="240.9" cy="462.0" r="1.7" fill="#f07018" stroke="#5a2200" stroke-width="0.7"/>
<line x1="338.4" y1="337.8" x2="429.4" y2="337.8" stroke="#555555" stroke-width="1"/>
<line x1="338.40" y1="337.8" x2="338.40" y2="340.0" stroke="#555555" stroke-width="1"/>
<text transform="translate(338.60,332.10) scale(1,1.15)" font-size="6.2" letter-spacing="0.2" fill="#505050" text-anchor="middle">0.0</text>
<line x1="368.73" y1="337.8" x2="368.73" y2="340.0" stroke="#555555" stroke-width="1"/>
<text transform="translate(368.93,332.10) scale(1,1.15)" font-size="6.2" letter-spacing="0.2" fill="#505050" text-anchor="middle">0.5</text>
<line x1="399.07" y1="337.8" x2="399.07" y2="340.0" stroke="#555555" stroke-width="1"/>
<text transform="translate(399.27,332.10) scale(1,1.15)" font-size="6.2" letter-spacing="0.2" fill="#505050" text-anchor="middle">1.0</text>
<line x1="429.40" y1="337.8" x2="429.40" y2="340.0" stroke="#555555" stroke-width="1"/>
<text transform="translate(429.60,332.10) scale(1,1.15)" font-size="6.2" letter-spacing="0.2" fill="#505050" text-anchor="middle">1.5</text>
<text x="384.1" y="323.60" font-size="6.9" stroke="#303030" stroke-width="0.1" fill="#303030" text-anchor="middle">DOP</text>
<text x="429.59999999999997" y="346.20" font-size="6.6" letter-spacing="0.15" fill="#303030" text-anchor="end">(N)</text>
<path d="M404.6,337.8 L385.7,338.6 L375.5,342.5 L399.1,345.9 L409.3,349.1 L383.1,351.3 L386.5,352.8 L390.1,357.5 L389.4,363.8 L384.6,367.3 L388.3,371.1 L385.7,371.4 L377.7,372.5 L388.3,374.2 L392.3,375.1 L383.3,377.7 L346.4,379.6 L354.4,382.0 L374.3,384.7 L389.4,386.4 L384.3,387.4 L373.3,388.7 L395.4,390.9 L386.1,392.7 L379.7,394.4 L378.4,395.9 L377.5,398.4 L368.6,403.0 L348.7,405.9 L363.5,407.8 L382.6,414.2 L353.0,417.1 L345.1,419.6 L347.9,423.1 L363.2,425.9 L350.4,428.3 L346.7,436.2 L342.4,438.3 L347.1,442.6 L358.2,444.6 L358.2,446.5 L353.5,453.9 L341.1,456.7 L345.2,459.6 L348.7,462.0" fill="none" stroke="#151515" stroke-width="1.2" stroke-dasharray="1.9,1.6"/>
<circle cx="404.6" cy="337.8" r="1.7" fill="#159015" stroke="#063306" stroke-width="0.7"/>
<circle cx="385.7" cy="338.6" r="1.7" fill="#159015" stroke="#063306" stroke-width="0.7"/>
<circle cx="375.5" cy="342.5" r="1.7" fill="#159015" stroke="#063306" stroke-width="0.7"/>
<circle cx="399.1" cy="345.9" r="1.7" fill="#159015" stroke="#063306" stroke-width="0.7"/>
<circle cx="409.3" cy="349.1" r="1.7" fill="#159015" stroke="#063306" stroke-width="0.7"/>
<circle cx="383.1" cy="351.3" r="1.7" fill="#159015" stroke="#063306" stroke-width="0.7"/>
<circle cx="386.5" cy="352.8" r="1.7" fill="#159015" stroke="#063306" stroke-width="0.7"/>
<circle cx="390.1" cy="357.5" r="1.7" fill="#159015" stroke="#063306" stroke-width="0.7"/>
<circle cx="389.4" cy="363.8" r="1.7" fill="#159015" stroke="#063306" stroke-width="0.7"/>
<circle cx="384.6" cy="367.3" r="1.7" fill="#159015" stroke="#063306" stroke-width="0.7"/>
<circle cx="388.3" cy="371.1" r="1.7" fill="#159015" stroke="#063306" stroke-width="0.7"/>
<circle cx="385.7" cy="371.4" r="1.7" fill="#159015" stroke="#063306" stroke-width="0.7"/>
<circle cx="377.7" cy="372.5" r="1.7" fill="#159015" stroke="#063306" stroke-width="0.7"/>
<circle cx="388.3" cy="374.2" r="1.7" fill="#159015" stroke="#063306" stroke-width="0.7"/>
<circle cx="392.3" cy="375.1" r="1.7" fill="#159015" stroke="#063306" stroke-width="0.7"/>
<circle cx="383.3" cy="377.7" r="1.7" fill="#159015" stroke="#063306" stroke-width="0.7"/>
<circle cx="346.4" cy="379.6" r="1.7" fill="#20a0e8" stroke="#084070" stroke-width="0.7"/>
<circle cx="354.4" cy="382.0" r="1.7" fill="#20a0e8" stroke="#084070" stroke-width="0.7"/>
<circle cx="374.3" cy="384.7" r="1.7" fill="#f07018" stroke="#5a2200" stroke-width="0.7"/>
<circle cx="389.4" cy="386.4" r="1.7" fill="#f07018" stroke="#5a2200" stroke-width="0.7"/>
<circle cx="384.3" cy="387.4" r="1.7" fill="#f07018" stroke="#5a2200" stroke-width="0.7"/>
<circle cx="373.3" cy="388.7" r="1.7" fill="#f07018" stroke="#5a2200" stroke-width="0.7"/>
<circle cx="395.4" cy="390.9" r="1.7" fill="#f07018" stroke="#5a2200" stroke-width="0.7"/>
<circle cx="386.1" cy="392.7" r="1.7" fill="#f07018" stroke="#5a2200" stroke-width="0.7"/>
<circle cx="379.7" cy="394.4" r="1.7" fill="#f07018" stroke="#5a2200" stroke-width="0.7"/>
<circle cx="378.4" cy="395.9" r="1.7" fill="#f07018" stroke="#5a2200" stroke-width="0.7"/>
<circle cx="377.5" cy="398.4" r="1.7" fill="#f07018" stroke="#5a2200" stroke-width="0.7"/>
<circle cx="368.6" cy="403.0" r="1.7" fill="#f07018" stroke="#5a2200" stroke-width="0.7"/>
<circle cx="348.7" cy="405.9" r="1.7" fill="#f07018" stroke="#5a2200" stroke-width="0.7"/>
<circle cx="363.5" cy="407.8" r="1.7" fill="#f07018" stroke="#5a2200" stroke-width="0.7"/>
<circle cx="382.6" cy="414.2" r="1.7" fill="#f07018" stroke="#5a2200" stroke-width="0.7"/>
<circle cx="353.0" cy="417.1" r="1.7" fill="#f07018" stroke="#5a2200" stroke-width="0.7"/>
<circle cx="345.1" cy="419.6" r="1.7" fill="#f07018" stroke="#5a2200" stroke-width="0.7"/>
<circle cx="347.9" cy="423.1" r="1.7" fill="#f07018" stroke="#5a2200" stroke-width="0.7"/>
<circle cx="363.2" cy="425.9" r="1.7" fill="#f07018" stroke="#5a2200" stroke-width="0.7"/>
<circle cx="350.4" cy="428.3" r="1.7" fill="#f07018" stroke="#5a2200" stroke-width="0.7"/>
<circle cx="346.7" cy="436.2" r="1.7" fill="#f07018" stroke="#5a2200" stroke-width="0.7"/>
<circle cx="342.4" cy="438.3" r="1.7" fill="#f07018" stroke="#5a2200" stroke-width="0.7"/>
<circle cx="347.1" cy="442.6" r="1.7" fill="#f07018" stroke="#5a2200" stroke-width="0.7"/>
<circle cx="358.2" cy="444.6" r="1.7" fill="#f07018" stroke="#5a2200" stroke-width="0.7"/>
<circle cx="358.2" cy="446.5" r="1.7" fill="#f07018" stroke="#5a2200" stroke-width="0.7"/>
<circle cx="353.5" cy="453.9" r="1.7" fill="#f07018" stroke="#5a2200" stroke-width="0.7"/>
<circle cx="341.1" cy="456.7" r="1.7" fill="#f07018" stroke="#5a2200" stroke-width="0.7"/>
<circle cx="345.2" cy="459.6" r="1.7" fill="#f07018" stroke="#5a2200" stroke-width="0.7"/>
<circle cx="348.7" cy="462.0" r="1.7" fill="#f07018" stroke="#5a2200" stroke-width="0.7"/>
<line x1="447.6" y1="337.8" x2="541.3" y2="337.8" stroke="#555555" stroke-width="1"/>
<line x1="447.60" y1="337.8" x2="447.60" y2="340.0" stroke="#555555" stroke-width="1"/>
<text transform="translate(447.80,332.10) scale(1,1.15)" font-size="6.2" letter-spacing="0.2" fill="#505050" text-anchor="middle">0.00</text>
<line x1="494.45" y1="337.8" x2="494.45" y2="340.0" stroke="#555555" stroke-width="1"/>
<text transform="translate(494.65,332.10) scale(1,1.15)" font-size="6.2" letter-spacing="0.2" fill="#505050" text-anchor="middle">0.05</text>
<line x1="541.30" y1="337.8" x2="541.30" y2="340.0" stroke="#555555" stroke-width="1"/>
<text transform="translate(541.50,332.10) scale(1,1.15)" font-size="6.2" letter-spacing="0.2" fill="#505050" text-anchor="middle">0.10</text>
<text x="495.3" y="323.60" font-size="6.9" stroke="#303030" stroke-width="0.1" fill="#303030" text-anchor="middle">Ti/Al</text>
<text x="541.5" y="346.20" font-size="6.6" letter-spacing="0.15" fill="#303030" text-anchor="end">(O)</text>
<path d="M497.7,337.8 L502.4,338.6 L498.2,342.5 L498.2,345.9 L501.1,349.1 L517.0,351.3 L503.9,352.8 L502.8,357.5 L503.1,363.8 L505.4,367.3 L502.2,371.1 L502.0,371.4 L502.5,372.5 L502.8,374.2 L498.0,375.1 L502.7,377.7 L502.0,379.6 L504.3,382.0 L499.8,384.7 L505.2,386.4 L502.1,387.4 L501.0,388.7 L497.2,390.9 L501.8,392.7 L503.5,394.4 L504.4,395.9 L507.2,398.4 L505.2,403.0 L499.8,405.9 L500.2,407.8 L506.6,414.2 L503.6,417.1 L501.3,419.6 L505.2,423.1 L497.9,425.9 L497.3,428.3 L499.8,436.2 L499.8,438.3 L502.3,442.6 L499.5,444.6 L502.8,446.5 L498.9,453.9 L503.9,456.7 L498.4,459.6 L499.5,462.0" fill="none" stroke="#151515" stroke-width="1.2" stroke-dasharray="1.9,1.6"/>
<circle cx="497.7" cy="337.8" r="1.7" fill="#159015" stroke="#063306" stroke-width="0.7"/>
<circle cx="502.4" cy="338.6" r="1.7" fill="#159015" stroke="#063306" stroke-width="0.7"/>
<circle cx="498.2" cy="342.5" r="1.7" fill="#159015" stroke="#063306" stroke-width="0.7"/>
<circle cx="498.2" cy="345.9" r="1.7" fill="#159015" stroke="#063306" stroke-width="0.7"/>
<circle cx="501.1" cy="349.1" r="1.7" fill="#159015" stroke="#063306" stroke-width="0.7"/>
<circle cx="517.0" cy="351.3" r="1.7" fill="#159015" stroke="#063306" stroke-width="0.7"/>
<circle cx="503.9" cy="352.8" r="1.7" fill="#159015" stroke="#063306" stroke-width="0.7"/>
<circle cx="502.8" cy="357.5" r="1.7" fill="#159015" stroke="#063306" stroke-width="0.7"/>
<circle cx="503.1" cy="363.8" r="1.7" fill="#159015" stroke="#063306" stroke-width="0.7"/>
<circle cx="505.4" cy="367.3" r="1.7" fill="#159015" stroke="#063306" stroke-width="0.7"/>
<circle cx="502.2" cy="371.1" r="1.7" fill="#159015" stroke="#063306" stroke-width="0.7"/>
<circle cx="502.0" cy="371.4" r="1.7" fill="#159015" stroke="#063306" stroke-width="0.7"/>
<circle cx="502.5" cy="372.5" r="1.7" fill="#159015" stroke="#063306" stroke-width="0.7"/>
<circle cx="502.8" cy="374.2" r="1.7" fill="#159015" stroke="#063306" stroke-width="0.7"/>
<circle cx="498.0" cy="375.1" r="1.7" fill="#159015" stroke="#063306" stroke-width="0.7"/>
<circle cx="502.7" cy="377.7" r="1.7" fill="#159015" stroke="#063306" stroke-width="0.7"/>
<circle cx="502.0" cy="379.6" r="1.7" fill="#20a0e8" stroke="#084070" stroke-width="0.7"/>
<circle cx="504.3" cy="382.0" r="1.7" fill="#20a0e8" stroke="#084070" stroke-width="0.7"/>
<circle cx="499.8" cy="384.7" r="1.7" fill="#f07018" stroke="#5a2200" stroke-width="0.7"/>
<circle cx="505.2" cy="386.4" r="1.7" fill="#f07018" stroke="#5a2200" stroke-width="0.7"/>
<circle cx="502.1" cy="387.4" r="1.7" fill="#f07018" stroke="#5a2200" stroke-width="0.7"/>
<circle cx="501.0" cy="388.7" r="1.7" fill="#f07018" stroke="#5a2200" stroke-width="0.7"/>
<circle cx="497.2" cy="390.9" r="1.7" fill="#f07018" stroke="#5a2200" stroke-width="0.7"/>
<circle cx="501.8" cy="392.7" r="1.7" fill="#f07018" stroke="#5a2200" stroke-width="0.7"/>
<circle cx="503.5" cy="394.4" r="1.7" fill="#f07018" stroke="#5a2200" stroke-width="0.7"/>
<circle cx="504.4" cy="395.9" r="1.7" fill="#f07018" stroke="#5a2200" stroke-width="0.7"/>
<circle cx="507.2" cy="398.4" r="1.7" fill="#f07018" stroke="#5a2200" stroke-width="0.7"/>
<circle cx="505.2" cy="403.0" r="1.7" fill="#f07018" stroke="#5a2200" stroke-width="0.7"/>
<circle cx="499.8" cy="405.9" r="1.7" fill="#f07018" stroke="#5a2200" stroke-width="0.7"/>
<circle cx="500.2" cy="407.8" r="1.7" fill="#f07018" stroke="#5a2200" stroke-width="0.7"/>
<circle cx="506.6" cy="414.2" r="1.7" fill="#f07018" stroke="#5a2200" stroke-width="0.7"/>
<circle cx="503.6" cy="417.1" r="1.7" fill="#f07018" stroke="#5a2200" stroke-width="0.7"/>
<circle cx="501.3" cy="419.6" r="1.7" fill="#f07018" stroke="#5a2200" stroke-width="0.7"/>
<circle cx="505.2" cy="423.1" r="1.7" fill="#f07018" stroke="#5a2200" stroke-width="0.7"/>
<circle cx="497.9" cy="425.9" r="1.7" fill="#f07018" stroke="#5a2200" stroke-width="0.7"/>
<circle cx="497.3" cy="428.3" r="1.7" fill="#f07018" stroke="#5a2200" stroke-width="0.7"/>
<circle cx="499.8" cy="436.2" r="1.7" fill="#f07018" stroke="#5a2200" stroke-width="0.7"/>
<circle cx="499.8" cy="438.3" r="1.7" fill="#f07018" stroke="#5a2200" stroke-width="0.7"/>
<circle cx="502.3" cy="442.6" r="1.7" fill="#f07018" stroke="#5a2200" stroke-width="0.7"/>
<circle cx="499.5" cy="444.6" r="1.7" fill="#f07018" stroke="#5a2200" stroke-width="0.7"/>
<circle cx="502.8" cy="446.5" r="1.7" fill="#f07018" stroke="#5a2200" stroke-width="0.7"/>
<circle cx="498.9" cy="453.9" r="1.7" fill="#f07018" stroke="#5a2200" stroke-width="0.7"/>
<circle cx="503.9" cy="456.7" r="1.7" fill="#f07018" stroke="#5a2200" stroke-width="0.7"/>
<circle cx="498.4" cy="459.6" r="1.7" fill="#f07018" stroke="#5a2200" stroke-width="0.7"/>
<circle cx="499.5" cy="462.0" r="1.7" fill="#f07018" stroke="#5a2200" stroke-width="0.7"/>
<circle cx="168.9" cy="487" r="1.75" fill="#138a13" stroke="#0b3d0b" stroke-width="0.6"/>
<text x="172.5" y="489.5" font-size="7.1" letter-spacing="0.12" fill="#3a3a3a" stroke="#3a3a3a" stroke-width="0.05">Longmaxi Formation</text>
<circle cx="247.8" cy="487" r="1.75" fill="#ee7120" stroke="#6e2e05" stroke-width="0.6"/>
<text x="251.4" y="489.5" font-size="7.1" letter-spacing="0.12" fill="#3a3a3a" stroke="#3a3a3a" stroke-width="0.05">Wufeng Formation</text>
<circle cx="323.1" cy="487" r="1.75" fill="#1e9ae0" stroke="#0a4d80" stroke-width="0.6"/>
<text x="326.70000000000005" y="489.5" font-size="7.1" letter-spacing="0.12" fill="#3a3a3a" stroke="#3a3a3a" stroke-width="0.05">Guanyinqiao Bed</text>
</svg></body></html>
